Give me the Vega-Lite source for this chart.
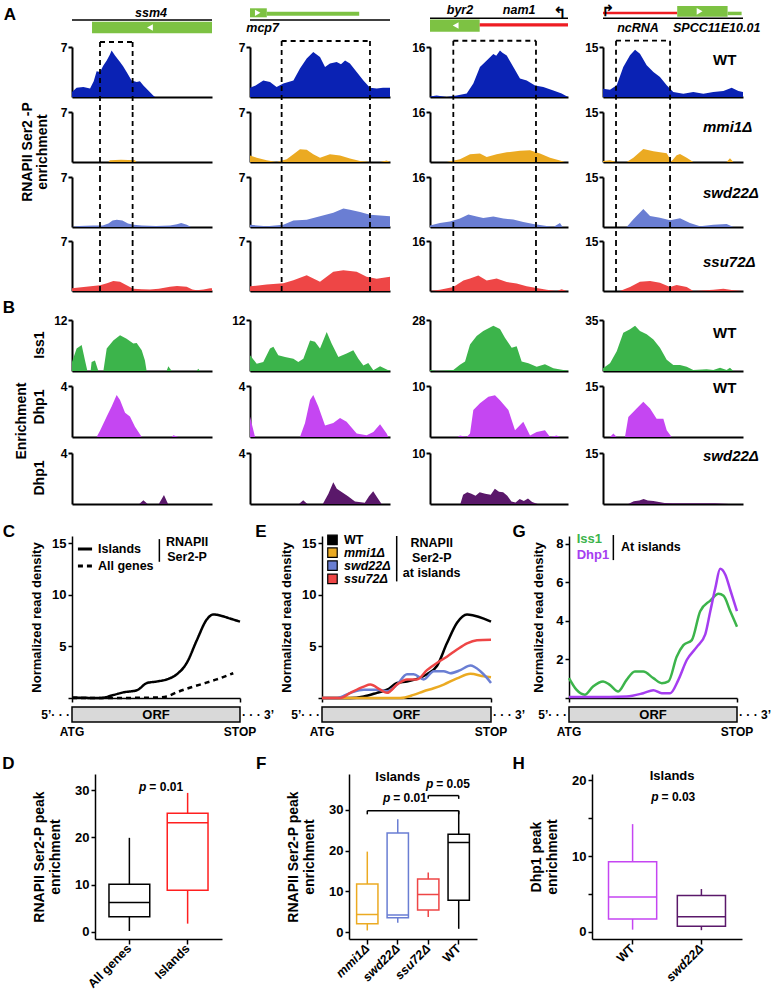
{
"$schema": "https://vega.github.io/schema/vega-lite/v6.json",
"padding": 0,
"spacing": 0,
"resolve": {"scale": {"color": "independent", "stroke": "independent", "strokeDash": "independent"}, "legend": {"color": "independent", "stroke": "independent", "strokeDash": "independent"}},
"config": {
 "view": {"stroke": null},
 "font": "Liberation Sans",
 "axis": {"labelFont": "Liberation Sans", "titleFont": "Liberation Sans", "labelFontWeight": "bold", "titleFontWeight": "bold", "labelColor": "black", "titleColor": "black", "domainColor": "black", "tickColor": "black", "grid": false, "zindex": 1},
 "text": {"font": "Liberation Sans", "fontWeight": "bold", "color": "black"},
 "legend": {"labelFont": "Liberation Sans"}
},
"datasets": {
 "genes": [
  {"c":1,"t":"line","s":0,"e":100},{"c":1,"t":"cds","s":14.3,"e":100},{"c":1,"t":"arrowL","s":55.7},{"c":1,"t":"label","s":56.4,"n":"ssm4"},
  {"c":2,"t":"line","s":0,"e":100},{"c":2,"t":"cds","s":0,"e":12},{"c":2,"t":"utr","s":12,"e":78},{"c":2,"t":"arrowR","s":5.5},{"c":2,"t":"label","s":9,"n":"mcp7"},
  {"c":3,"t":"line","s":0,"e":100},{"c":3,"t":"cds","s":0,"e":36},{"c":3,"t":"nc","s":36,"e":100},{"c":3,"t":"arrowL","s":18.6},{"c":3,"t":"label","s":21.7,"n":"byr2"},{"c":3,"t":"label","s":64.6,"n":"nam1"},{"c":3,"t":"tss","s":94.2,"n":"↰"},
  {"c":4,"t":"line","s":0,"e":100},{"c":4,"t":"nc","s":0,"e":53},{"c":4,"t":"cds","s":53,"e":89},{"c":4,"t":"utr","s":89,"e":99},{"c":4,"t":"arrowR","s":69},{"c":4,"t":"label","s":25,"n":"ncRNA"},{"c":4,"t":"label","s":81.2,"n":"SPCC11E10.01"},{"c":4,"t":"tss","s":3.6,"n":"↱"}
 ],
 "boxes": [{"c":1,"x1":20,"x2":43.3},{"c":2,"x1":22.6,"x2":85.7},{"c":3,"x1":16.9,"x2":76.8},{"c":4,"x1":9.3,"x2":47.9}],
 "tracks": [
  {"c":1,"r":"WT","x":0,"v":0.7},{"c":1,"r":"WT","x":3.3,"v":1.3},{"c":1,"r":"WT","x":8.1,"v":1.4},{"c":1,"r":"WT","x":12.9,"v":1.2},{"c":1,"r":"WT","x":15.5,"v":2.2},{"c":1,"r":"WT","x":17.6,"v":3.6},{"c":1,"r":"WT","x":20,"v":3.5},{"c":1,"r":"WT","x":22.4,"v":4.4},{"c":1,"r":"WT","x":24.8,"v":5.1},{"c":1,"r":"WT","x":27,"v":5.9},{"c":1,"r":"WT","x":28.3,"v":6.5},{"c":1,"r":"WT","x":30.7,"v":5.8},{"c":1,"r":"WT","x":34.3,"v":4.9},{"c":1,"r":"WT","x":36.5,"v":4.3},{"c":1,"r":"WT","x":39,"v":3.5},{"c":1,"r":"WT","x":42.6,"v":2.3},{"c":1,"r":"WT","x":46.2,"v":2.1},{"c":1,"r":"WT","x":48.5,"v":2.2},{"c":1,"r":"WT","x":51,"v":1.6},{"c":1,"r":"WT","x":54.5,"v":0.9},{"c":1,"r":"WT","x":58,"v":0.2},{"c":1,"r":"WT","x":59.3,"v":0},{"c":1,"r":"WT","x":100,"v":0},
  {"c":1,"r":"mmi1","x":0,"v":0},{"c":1,"r":"mmi1","x":26,"v":0},{"c":1,"r":"mmi1","x":27,"v":0.25},{"c":1,"r":"mmi1","x":35,"v":0.3},{"c":1,"r":"mmi1","x":45,"v":0.25},{"c":1,"r":"mmi1","x":46,"v":0},{"c":1,"r":"mmi1","x":100,"v":0},
  {"c":1,"r":"swd22","x":0,"v":0},{"c":1,"r":"swd22","x":5,"v":0.15},{"c":1,"r":"swd22","x":15,"v":0.2},{"c":1,"r":"swd22","x":22,"v":0.2},{"c":1,"r":"swd22","x":26,"v":0.5},{"c":1,"r":"swd22","x":29,"v":0.9},{"c":1,"r":"swd22","x":32,"v":1.0},{"c":1,"r":"swd22","x":36,"v":0.9},{"c":1,"r":"swd22","x":40,"v":0.5},{"c":1,"r":"swd22","x":44,"v":0.3},{"c":1,"r":"swd22","x":50,"v":0.2},{"c":1,"r":"swd22","x":60,"v":0.15},{"c":1,"r":"swd22","x":70,"v":0.2},{"c":1,"r":"swd22","x":75,"v":0.4},{"c":1,"r":"swd22","x":78,"v":0.55},{"c":1,"r":"swd22","x":82,"v":0.3},{"c":1,"r":"swd22","x":85,"v":0},{"c":1,"r":"swd22","x":100,"v":0},
  {"c":1,"r":"ssu72","x":0,"v":0.4},{"c":1,"r":"ssu72","x":10,"v":0.6},{"c":1,"r":"ssu72","x":20,"v":0.8},{"c":1,"r":"ssu72","x":25,"v":1.1},{"c":1,"r":"ssu72","x":29.5,"v":1.4},{"c":1,"r":"ssu72","x":34.3,"v":1.3},{"c":1,"r":"ssu72","x":39,"v":0.8},{"c":1,"r":"ssu72","x":43.8,"v":0.3},{"c":1,"r":"ssu72","x":50,"v":0.25},{"c":1,"r":"ssu72","x":55.7,"v":0.2},{"c":1,"r":"ssu72","x":62,"v":0.3},{"c":1,"r":"ssu72","x":70,"v":0.6},{"c":1,"r":"ssu72","x":75,"v":0.7},{"c":1,"r":"ssu72","x":81.9,"v":0.6},{"c":1,"r":"ssu72","x":86,"v":0.2},{"c":1,"r":"ssu72","x":89,"v":0.1},{"c":1,"r":"ssu72","x":94,"v":0.2},{"c":1,"r":"ssu72","x":98.6,"v":0.4},{"c":1,"r":"ssu72","x":100,"v":0.4},
  {"c":2,"r":"WT","x":0,"v":1.3},{"c":2,"r":"WT","x":4,"v":1.6},{"c":2,"r":"WT","x":9.5,"v":2.3},{"c":2,"r":"WT","x":14.3,"v":2.1},{"c":2,"r":"WT","x":19,"v":1.4},{"c":2,"r":"WT","x":23.8,"v":1.9},{"c":2,"r":"WT","x":31,"v":2.3},{"c":2,"r":"WT","x":35.7,"v":4.0},{"c":2,"r":"WT","x":40.5,"v":5.4},{"c":2,"r":"WT","x":45.2,"v":6.3},{"c":2,"r":"WT","x":50,"v":5.6},{"c":2,"r":"WT","x":53.6,"v":4.2},{"c":2,"r":"WT","x":57.1,"v":4.7},{"c":2,"r":"WT","x":61.9,"v":4.9},{"c":2,"r":"WT","x":65,"v":4.6},{"c":2,"r":"WT","x":67.9,"v":5.1},{"c":2,"r":"WT","x":71.4,"v":4.7},{"c":2,"r":"WT","x":76.2,"v":3.5},{"c":2,"r":"WT","x":81,"v":2.3},{"c":2,"r":"WT","x":85.7,"v":1.3},{"c":2,"r":"WT","x":90.5,"v":1.2},{"c":2,"r":"WT","x":95,"v":1.3},{"c":2,"r":"WT","x":100,"v":1.3},
  {"c":2,"r":"mmi1","x":0,"v":0.9},{"c":2,"r":"mmi1","x":4.8,"v":0.6},{"c":2,"r":"mmi1","x":11.9,"v":0.25},{"c":2,"r":"mmi1","x":19,"v":0},{"c":2,"r":"mmi1","x":26.2,"v":0.4},{"c":2,"r":"mmi1","x":31,"v":1.1},{"c":2,"r":"mmi1","x":35.7,"v":1.8},{"c":2,"r":"mmi1","x":40.5,"v":1.7},{"c":2,"r":"mmi1","x":45.2,"v":1.1},{"c":2,"r":"mmi1","x":50,"v":0.6},{"c":2,"r":"mmi1","x":57.1,"v":1.1},{"c":2,"r":"mmi1","x":64.3,"v":0.9},{"c":2,"r":"mmi1","x":71.4,"v":0.5},{"c":2,"r":"mmi1","x":78.6,"v":0.15},{"c":2,"r":"mmi1","x":85.7,"v":0},{"c":2,"r":"mmi1","x":92.9,"v":0},{"c":2,"r":"mmi1","x":97.6,"v":0.2},{"c":2,"r":"mmi1","x":100,"v":0},
  {"c":2,"r":"swd22","x":0,"v":0.3},{"c":2,"r":"swd22","x":11.9,"v":0.1},{"c":2,"r":"swd22","x":23.8,"v":0.3},{"c":2,"r":"swd22","x":31,"v":0.9},{"c":2,"r":"swd22","x":40.5,"v":1.0},{"c":2,"r":"swd22","x":50,"v":1.5},{"c":2,"r":"swd22","x":59.5,"v":2.0},{"c":2,"r":"swd22","x":66.7,"v":2.6},{"c":2,"r":"swd22","x":71.4,"v":2.4},{"c":2,"r":"swd22","x":78.6,"v":2.1},{"c":2,"r":"swd22","x":85.7,"v":1.7},{"c":2,"r":"swd22","x":92.9,"v":1.6},{"c":2,"r":"swd22","x":100,"v":1.5},
  {"c":2,"r":"ssu72","x":0,"v":0.65},{"c":2,"r":"ssu72","x":11.9,"v":0.9},{"c":2,"r":"ssu72","x":23.8,"v":1.1},{"c":2,"r":"ssu72","x":31,"v":1.5},{"c":2,"r":"ssu72","x":40.5,"v":2.2},{"c":2,"r":"ssu72","x":50,"v":1.3},{"c":2,"r":"ssu72","x":59.5,"v":2.7},{"c":2,"r":"ssu72","x":66.7,"v":2.9},{"c":2,"r":"ssu72","x":76.2,"v":2.7},{"c":2,"r":"ssu72","x":83.3,"v":2.0},{"c":2,"r":"ssu72","x":90.5,"v":1.7},{"c":2,"r":"ssu72","x":100,"v":2.0},
  {"c":3,"r":"WT","x":0,"v":0.2},{"c":3,"r":"WT","x":4.8,"v":0.5},{"c":3,"r":"WT","x":12.1,"v":0},{"c":3,"r":"WT","x":19.3,"v":0.5},{"c":3,"r":"WT","x":26.6,"v":1.1},{"c":3,"r":"WT","x":31.4,"v":4.3},{"c":3,"r":"WT","x":36.2,"v":9.6},{"c":3,"r":"WT","x":41.1,"v":11.7},{"c":3,"r":"WT","x":45.9,"v":13.8},{"c":3,"r":"WT","x":48,"v":13.2},{"c":3,"r":"WT","x":50.7,"v":14.9},{"c":3,"r":"WT","x":52.5,"v":14.2},{"c":3,"r":"WT","x":55.6,"v":13.3},{"c":3,"r":"WT","x":60.4,"v":9.6},{"c":3,"r":"WT","x":65.2,"v":5.9},{"c":3,"r":"WT","x":70.1,"v":5.3},{"c":3,"r":"WT","x":76.1,"v":3.7},{"c":3,"r":"WT","x":82.1,"v":3.2},{"c":3,"r":"WT","x":89.4,"v":2.1},{"c":3,"r":"WT","x":95.4,"v":1.1},{"c":3,"r":"WT","x":100,"v":0},
  {"c":3,"r":"mmi1","x":0,"v":0},{"c":3,"r":"mmi1","x":12.1,"v":0},{"c":3,"r":"mmi1","x":21.7,"v":0.9},{"c":3,"r":"mmi1","x":29,"v":2.5},{"c":3,"r":"mmi1","x":36.2,"v":2.7},{"c":3,"r":"mmi1","x":41.1,"v":1.6},{"c":3,"r":"mmi1","x":48.3,"v":2.5},{"c":3,"r":"mmi1","x":55.6,"v":3.1},{"c":3,"r":"mmi1","x":65.2,"v":3.6},{"c":3,"r":"mmi1","x":72.5,"v":3.8},{"c":3,"r":"mmi1","x":79.7,"v":2.7},{"c":3,"r":"mmi1","x":87,"v":1.4},{"c":3,"r":"mmi1","x":94.2,"v":0.5},{"c":3,"r":"mmi1","x":97.8,"v":0},{"c":3,"r":"mmi1","x":100,"v":0},
  {"c":3,"r":"swd22","x":0,"v":0.5},{"c":3,"r":"swd22","x":7.2,"v":1.3},{"c":3,"r":"swd22","x":14.5,"v":1.8},{"c":3,"r":"swd22","x":21.7,"v":2.7},{"c":3,"r":"swd22","x":27.8,"v":4.0},{"c":3,"r":"swd22","x":33.8,"v":3.4},{"c":3,"r":"swd22","x":38.6,"v":2.9},{"c":3,"r":"swd22","x":45.9,"v":3.4},{"c":3,"r":"swd22","x":53.1,"v":2.7},{"c":3,"r":"swd22","x":60.4,"v":2.4},{"c":3,"r":"swd22","x":67.6,"v":1.6},{"c":3,"r":"swd22","x":74.9,"v":1.0},{"c":3,"r":"swd22","x":82.1,"v":0.5},{"c":3,"r":"swd22","x":89.4,"v":0},{"c":3,"r":"swd22","x":94.2,"v":1.3},{"c":3,"r":"swd22","x":96.1,"v":0},{"c":3,"r":"swd22","x":100,"v":0},
  {"c":3,"r":"ssu72","x":0,"v":0},{"c":3,"r":"ssu72","x":7.2,"v":0.4},{"c":3,"r":"ssu72","x":16.9,"v":1.3},{"c":3,"r":"ssu72","x":24.2,"v":3.4},{"c":3,"r":"ssu72","x":29,"v":4.0},{"c":3,"r":"ssu72","x":35,"v":5.0},{"c":3,"r":"ssu72","x":41.1,"v":3.4},{"c":3,"r":"ssu72","x":48.3,"v":4.0},{"c":3,"r":"ssu72","x":55.6,"v":2.9},{"c":3,"r":"ssu72","x":62.8,"v":2.4},{"c":3,"r":"ssu72","x":70,"v":1.5},{"c":3,"r":"ssu72","x":77.3,"v":1.0},{"c":3,"r":"ssu72","x":84.5,"v":0.4},{"c":3,"r":"ssu72","x":91.8,"v":0},{"c":3,"r":"ssu72","x":95.4,"v":0.6},{"c":3,"r":"ssu72","x":99,"v":0},{"c":3,"r":"ssu72","x":100,"v":0},
  {"c":4,"r":"WT","x":0,"v":2.5},{"c":4,"r":"WT","x":5,"v":2.2},{"c":4,"r":"WT","x":9.8,"v":3.5},{"c":4,"r":"WT","x":14.5,"v":9},{"c":4,"r":"WT","x":19.3,"v":12.5},{"c":4,"r":"WT","x":22.9,"v":14.2},{"c":4,"r":"WT","x":26.4,"v":13},{"c":4,"r":"WT","x":31.2,"v":9.5},{"c":4,"r":"WT","x":36,"v":7.5},{"c":4,"r":"WT","x":40.7,"v":6},{"c":4,"r":"WT","x":45.5,"v":3.5},{"c":4,"r":"WT","x":50.2,"v":1.5},{"c":4,"r":"WT","x":57.4,"v":1},{"c":4,"r":"WT","x":64.5,"v":1.5},{"c":4,"r":"WT","x":71.7,"v":1},{"c":4,"r":"WT","x":78.8,"v":1.5},{"c":4,"r":"WT","x":86,"v":1.8},{"c":4,"r":"WT","x":91.9,"v":2.8},{"c":4,"r":"WT","x":96.7,"v":1.8},{"c":4,"r":"WT","x":100,"v":1.5},
  {"c":4,"r":"mmi1","x":0,"v":0.3},{"c":4,"r":"mmi1","x":5,"v":0.5},{"c":4,"r":"mmi1","x":9.8,"v":0},{"c":4,"r":"mmi1","x":16.9,"v":0},{"c":4,"r":"mmi1","x":21.7,"v":1.3},{"c":4,"r":"mmi1","x":28.8,"v":3.9},{"c":4,"r":"mmi1","x":36,"v":3.2},{"c":4,"r":"mmi1","x":45.5,"v":2.6},{"c":4,"r":"mmi1","x":47.5,"v":1.2},{"c":4,"r":"mmi1","x":49,"v":0.2},{"c":4,"r":"mmi1","x":52.6,"v":2.0},{"c":4,"r":"mmi1","x":55,"v":2.4},{"c":4,"r":"mmi1","x":59.8,"v":1.3},{"c":4,"r":"mmi1","x":64.5,"v":0},{"c":4,"r":"mmi1","x":88.3,"v":0},{"c":4,"r":"mmi1","x":90.7,"v":1.1},{"c":4,"r":"mmi1","x":93.1,"v":0},{"c":4,"r":"mmi1","x":100,"v":0},
  {"c":4,"r":"swd22","x":0,"v":0},{"c":4,"r":"swd22","x":16.9,"v":0},{"c":4,"r":"swd22","x":21.7,"v":2.3},{"c":4,"r":"swd22","x":28.8,"v":5.4},{"c":4,"r":"swd22","x":33.6,"v":3.3},{"c":4,"r":"swd22","x":40.7,"v":2.8},{"c":4,"r":"swd22","x":47.9,"v":2.0},{"c":4,"r":"swd22","x":55,"v":2.6},{"c":4,"r":"swd22","x":62.1,"v":1.2},{"c":4,"r":"swd22","x":69.3,"v":0.2},{"c":4,"r":"swd22","x":78.8,"v":0.7},{"c":4,"r":"swd22","x":88.3,"v":0.9},{"c":4,"r":"swd22","x":93.1,"v":0},{"c":4,"r":"swd22","x":100,"v":0},
  {"c":4,"r":"ssu72","x":0,"v":0},{"c":4,"r":"ssu72","x":12.1,"v":0},{"c":4,"r":"ssu72","x":19.3,"v":1.2},{"c":4,"r":"ssu72","x":26.4,"v":2.8},{"c":4,"r":"ssu72","x":33.6,"v":3.0},{"c":4,"r":"ssu72","x":40.7,"v":2.5},{"c":4,"r":"ssu72","x":47.9,"v":1.2},{"c":4,"r":"ssu72","x":52.6,"v":1.8},{"c":4,"r":"ssu72","x":59.8,"v":1.2},{"c":4,"r":"ssu72","x":64.5,"v":0},{"c":4,"r":"ssu72","x":78.8,"v":0.4},{"c":4,"r":"ssu72","x":86,"v":0.7},{"c":4,"r":"ssu72","x":93.1,"v":0.2},{"c":4,"r":"ssu72","x":100,"v":0}
 ],
 "chip": [
  {"c":1,"r":"Iss1","x":0,"v":2.1},{"c":1,"r":"Iss1","x":3.3,"v":5.3},{"c":1,"r":"Iss1","x":6.9,"v":6.1},{"c":1,"r":"Iss1","x":9.3,"v":2.5},{"c":1,"r":"Iss1","x":11,"v":0},{"c":1,"r":"Iss1","x":13.3,"v":0},{"c":1,"r":"Iss1","x":14,"v":2.1},{"c":1,"r":"Iss1","x":16.4,"v":2.5},{"c":1,"r":"Iss1","x":18.8,"v":0},{"c":1,"r":"Iss1","x":22.4,"v":0},{"c":1,"r":"Iss1","x":24.8,"v":5.3},{"c":1,"r":"Iss1","x":29.5,"v":7.2},{"c":1,"r":"Iss1","x":34.3,"v":8.4},{"c":1,"r":"Iss1","x":39,"v":7.6},{"c":1,"r":"Iss1","x":43.8,"v":6.5},{"c":1,"r":"Iss1","x":46.2,"v":6.6},{"c":1,"r":"Iss1","x":49.8,"v":4.9},{"c":1,"r":"Iss1","x":52.1,"v":2.5},{"c":1,"r":"Iss1","x":53.3,"v":0},{"c":1,"r":"Iss1","x":67.6,"v":0},{"c":1,"r":"Iss1","x":68.8,"v":1.1},{"c":1,"r":"Iss1","x":71.2,"v":0},{"c":1,"r":"Iss1","x":89,"v":0},{"c":1,"r":"Iss1","x":90.2,"v":0.55},{"c":1,"r":"Iss1","x":91.4,"v":0},{"c":1,"r":"Iss1","x":100,"v":0},
  {"c":1,"r":"Dhp1","x":0,"v":0},{"c":1,"r":"Dhp1","x":17.6,"v":0},{"c":1,"r":"Dhp1","x":20,"v":0.5},{"c":1,"r":"Dhp1","x":24.8,"v":1.6},{"c":1,"r":"Dhp1","x":28.3,"v":2.4},{"c":1,"r":"Dhp1","x":31.9,"v":3.3},{"c":1,"r":"Dhp1","x":34.3,"v":2.9},{"c":1,"r":"Dhp1","x":37.9,"v":1.9},{"c":1,"r":"Dhp1","x":41.4,"v":1.6},{"c":1,"r":"Dhp1","x":45,"v":0.8},{"c":1,"r":"Dhp1","x":49.8,"v":0},{"c":1,"r":"Dhp1","x":71.2,"v":0},{"c":1,"r":"Dhp1","x":72.4,"v":0.13},{"c":1,"r":"Dhp1","x":76,"v":0},{"c":1,"r":"Dhp1","x":100,"v":0},
  {"c":1,"r":"Dhp1s","x":0,"v":0},{"c":1,"r":"Dhp1s","x":48,"v":0},{"c":1,"r":"Dhp1s","x":51,"v":0.3},{"c":1,"r":"Dhp1s","x":54,"v":0},{"c":1,"r":"Dhp1s","x":62,"v":0},{"c":1,"r":"Dhp1s","x":65.7,"v":0.7},{"c":1,"r":"Dhp1s","x":68.6,"v":0},{"c":1,"r":"Dhp1s","x":100,"v":0},
  {"c":2,"r":"Iss1","x":0,"v":3.7},{"c":2,"r":"Iss1","x":4.8,"v":1.7},{"c":2,"r":"Iss1","x":9.5,"v":2.1},{"c":2,"r":"Iss1","x":14.3,"v":5.3},{"c":2,"r":"Iss1","x":16.7,"v":5.7},{"c":2,"r":"Iss1","x":20.2,"v":3.7},{"c":2,"r":"Iss1","x":25,"v":3.3},{"c":2,"r":"Iss1","x":31,"v":2.9},{"c":2,"r":"Iss1","x":34.5,"v":2.1},{"c":2,"r":"Iss1","x":38.1,"v":2.9},{"c":2,"r":"Iss1","x":42.9,"v":7.2},{"c":2,"r":"Iss1","x":46.4,"v":6.9},{"c":2,"r":"Iss1","x":50,"v":5.3},{"c":2,"r":"Iss1","x":54.8,"v":9.2},{"c":2,"r":"Iss1","x":58.3,"v":6.5},{"c":2,"r":"Iss1","x":63.1,"v":3.3},{"c":2,"r":"Iss1","x":69,"v":4.1},{"c":2,"r":"Iss1","x":73.8,"v":4.9},{"c":2,"r":"Iss1","x":77.4,"v":2.9},{"c":2,"r":"Iss1","x":81,"v":1.3},{"c":2,"r":"Iss1","x":84.5,"v":1.9},{"c":2,"r":"Iss1","x":88.1,"v":0.2},{"c":2,"r":"Iss1","x":92.9,"v":1.1},{"c":2,"r":"Iss1","x":98.8,"v":0.2},{"c":2,"r":"Iss1","x":100,"v":0.2},
  {"c":2,"r":"Dhp1","x":0,"v":1.6},{"c":2,"r":"Dhp1","x":3.6,"v":0},{"c":2,"r":"Dhp1","x":35.7,"v":0},{"c":2,"r":"Dhp1","x":39.3,"v":1.1},{"c":2,"r":"Dhp1","x":42.9,"v":2.9},{"c":2,"r":"Dhp1","x":45.2,"v":3.3},{"c":2,"r":"Dhp1","x":48.8,"v":2.4},{"c":2,"r":"Dhp1","x":53.6,"v":0.9},{"c":2,"r":"Dhp1","x":59.5,"v":1.1},{"c":2,"r":"Dhp1","x":64.3,"v":1.5},{"c":2,"r":"Dhp1","x":69,"v":1.2},{"c":2,"r":"Dhp1","x":76.2,"v":0.27},{"c":2,"r":"Dhp1","x":83.3,"v":0.13},{"c":2,"r":"Dhp1","x":88.1,"v":0.4},{"c":2,"r":"Dhp1","x":92.9,"v":1.0},{"c":2,"r":"Dhp1","x":97.6,"v":0.27},{"c":2,"r":"Dhp1","x":98.8,"v":0},{"c":2,"r":"Dhp1","x":100,"v":0},
  {"c":2,"r":"Dhp1s","x":0,"v":0},{"c":2,"r":"Dhp1s","x":35,"v":0},{"c":2,"r":"Dhp1s","x":38,"v":0.3},{"c":2,"r":"Dhp1s","x":41,"v":0},{"c":2,"r":"Dhp1s","x":52,"v":0},{"c":2,"r":"Dhp1s","x":56,"v":0.8},{"c":2,"r":"Dhp1s","x":59.5,"v":1.7},{"c":2,"r":"Dhp1s","x":62,"v":1.2},{"c":2,"r":"Dhp1s","x":66,"v":0.9},{"c":2,"r":"Dhp1s","x":70,"v":0.6},{"c":2,"r":"Dhp1s","x":75,"v":0.2},{"c":2,"r":"Dhp1s","x":82,"v":0.1},{"c":2,"r":"Dhp1s","x":85,"v":0.6},{"c":2,"r":"Dhp1s","x":88,"v":1.0},{"c":2,"r":"Dhp1s","x":91,"v":0.5},{"c":2,"r":"Dhp1s","x":94,"v":0},{"c":2,"r":"Dhp1s","x":100,"v":0},
  {"c":3,"r":"Iss1","x":0,"v":0.6},{"c":3,"r":"Iss1","x":4.8,"v":0},{"c":3,"r":"Iss1","x":16.9,"v":0.5},{"c":3,"r":"Iss1","x":21.7,"v":3.4},{"c":3,"r":"Iss1","x":25.4,"v":5.2},{"c":3,"r":"Iss1","x":29,"v":14.5},{"c":3,"r":"Iss1","x":33.8,"v":19.2},{"c":3,"r":"Iss1","x":38.6,"v":22},{"c":3,"r":"Iss1","x":45.9,"v":24.8},{"c":3,"r":"Iss1","x":50.7,"v":23},{"c":3,"r":"Iss1","x":54.3,"v":18.3},{"c":3,"r":"Iss1","x":59.2,"v":12.7},{"c":3,"r":"Iss1","x":62.8,"v":13.6},{"c":3,"r":"Iss1","x":66.4,"v":5.2},{"c":3,"r":"Iss1","x":71.3,"v":4.3},{"c":3,"r":"Iss1","x":77.3,"v":2.4},{"c":3,"r":"Iss1","x":83.3,"v":3.7},{"c":3,"r":"Iss1","x":89.4,"v":1.5},{"c":3,"r":"Iss1","x":96.6,"v":0.6},{"c":3,"r":"Iss1","x":100,"v":0.3},
  {"c":3,"r":"Dhp1","x":0,"v":0},{"c":3,"r":"Dhp1","x":20,"v":0},{"c":3,"r":"Dhp1","x":21.7,"v":0.3},{"c":3,"r":"Dhp1","x":26.6,"v":0},{"c":3,"r":"Dhp1","x":29,"v":0.7},{"c":3,"r":"Dhp1","x":31.4,"v":5.3},{"c":3,"r":"Dhp1","x":36.2,"v":6.6},{"c":3,"r":"Dhp1","x":42.3,"v":7.9},{"c":3,"r":"Dhp1","x":47.1,"v":8.2},{"c":3,"r":"Dhp1","x":50.7,"v":7.2},{"c":3,"r":"Dhp1","x":56.8,"v":5.3},{"c":3,"r":"Dhp1","x":61.6,"v":1.3},{"c":3,"r":"Dhp1","x":67.6,"v":3.0},{"c":3,"r":"Dhp1","x":72.5,"v":0.3},{"c":3,"r":"Dhp1","x":77.3,"v":1.0},{"c":3,"r":"Dhp1","x":83.3,"v":1.3},{"c":3,"r":"Dhp1","x":87,"v":0},{"c":3,"r":"Dhp1","x":91.8,"v":0.3},{"c":3,"r":"Dhp1","x":94.2,"v":0},{"c":3,"r":"Dhp1","x":100,"v":0},
  {"c":3,"r":"Dhp1s","x":0,"v":0},{"c":3,"r":"Dhp1s","x":22,"v":0},{"c":3,"r":"Dhp1s","x":24,"v":1.8},{"c":3,"r":"Dhp1s","x":27,"v":2.3},{"c":3,"r":"Dhp1s","x":30,"v":2.0},{"c":3,"r":"Dhp1s","x":33,"v":1.6},{"c":3,"r":"Dhp1s","x":36,"v":2.3},{"c":3,"r":"Dhp1s","x":40,"v":2.0},{"c":3,"r":"Dhp1s","x":44,"v":1.8},{"c":3,"r":"Dhp1s","x":47,"v":3.0},{"c":3,"r":"Dhp1s","x":50,"v":2.4},{"c":3,"r":"Dhp1s","x":53,"v":2.3},{"c":3,"r":"Dhp1s","x":56,"v":1.6},{"c":3,"r":"Dhp1s","x":59,"v":0.5},{"c":3,"r":"Dhp1s","x":62,"v":0.3},{"c":3,"r":"Dhp1s","x":65,"v":1.0},{"c":3,"r":"Dhp1s","x":68,"v":0.6},{"c":3,"r":"Dhp1s","x":71,"v":1.1},{"c":3,"r":"Dhp1s","x":74,"v":0.4},{"c":3,"r":"Dhp1s","x":78,"v":0},{"c":3,"r":"Dhp1s","x":100,"v":0},
  {"c":4,"r":"Iss1","x":0,"v":1.9},{"c":4,"r":"Iss1","x":5,"v":5.4},{"c":4,"r":"Iss1","x":9.8,"v":13.5},{"c":4,"r":"Iss1","x":14.5,"v":26.3},{"c":4,"r":"Iss1","x":19.3,"v":28.7},{"c":4,"r":"Iss1","x":22.9,"v":31},{"c":4,"r":"Iss1","x":26.4,"v":27.5},{"c":4,"r":"Iss1","x":31.2,"v":25.2},{"c":4,"r":"Iss1","x":36,"v":21.7},{"c":4,"r":"Iss1","x":40.7,"v":15.9},{"c":4,"r":"Iss1","x":45.5,"v":7.7},{"c":4,"r":"Iss1","x":50.2,"v":4.2},{"c":4,"r":"Iss1","x":55,"v":4.2},{"c":4,"r":"Iss1","x":59.8,"v":3},{"c":4,"r":"Iss1","x":64.5,"v":0.7},{"c":4,"r":"Iss1","x":74,"v":1.2},{"c":4,"r":"Iss1","x":78.8,"v":0.7},{"c":4,"r":"Iss1","x":83.6,"v":2.3},{"c":4,"r":"Iss1","x":88.3,"v":0.7},{"c":4,"r":"Iss1","x":90.7,"v":2.3},{"c":4,"r":"Iss1","x":93.1,"v":0},{"c":4,"r":"Iss1","x":100,"v":0},
  {"c":4,"r":"Dhp1","x":0,"v":0},{"c":4,"r":"Dhp1","x":5,"v":0},{"c":4,"r":"Dhp1","x":7.4,"v":1.0},{"c":4,"r":"Dhp1","x":9.8,"v":0},{"c":4,"r":"Dhp1","x":15.7,"v":0},{"c":4,"r":"Dhp1","x":18.1,"v":5.9},{"c":4,"r":"Dhp1","x":24,"v":8.4},{"c":4,"r":"Dhp1","x":28.8,"v":10.4},{"c":4,"r":"Dhp1","x":33.6,"v":8.4},{"c":4,"r":"Dhp1","x":38.3,"v":5.4},{"c":4,"r":"Dhp1","x":43.1,"v":5.4},{"c":4,"r":"Dhp1","x":45.5,"v":2.0},{"c":4,"r":"Dhp1","x":49,"v":0},{"c":4,"r":"Dhp1","x":100,"v":0},
  {"c":4,"r":"Dhp1s","x":0,"v":0},{"c":4,"r":"Dhp1s","x":18,"v":0},{"c":4,"r":"Dhp1s","x":22,"v":0.8},{"c":4,"r":"Dhp1s","x":26,"v":1.0},{"c":4,"r":"Dhp1s","x":29,"v":1.5},{"c":4,"r":"Dhp1s","x":32,"v":1.0},{"c":4,"r":"Dhp1s","x":36,"v":0.9},{"c":4,"r":"Dhp1s","x":40,"v":0.6},{"c":4,"r":"Dhp1s","x":44,"v":0.3},{"c":4,"r":"Dhp1s","x":50,"v":0.2},{"c":4,"r":"Dhp1s","x":60,"v":0.2},{"c":4,"r":"Dhp1s","x":70,"v":0.2},{"c":4,"r":"Dhp1s","x":80,"v":0.2},{"c":4,"r":"Dhp1s","x":90,"v":0},{"c":4,"r":"Dhp1s","x":100,"v":0}
 ],
 "prof": [
  {"p":"C","s":"Islands","x":0,"v":0.05},{"p":"C","s":"Islands","x":16.8,"v":0},{"p":"C","s":"Islands","x":24.8,"v":0.3},{"p":"C","s":"Islands","x":30.7,"v":0.55},{"p":"C","s":"Islands","x":38.6,"v":0.75},{"p":"C","s":"Islands","x":44.6,"v":1.45},{"p":"C","s":"Islands","x":50.5,"v":1.6},{"p":"C","s":"Islands","x":56.4,"v":1.8},{"p":"C","s":"Islands","x":62.4,"v":2.3},{"p":"C","s":"Islands","x":68.3,"v":3.4},{"p":"C","s":"Islands","x":74.3,"v":5.6},{"p":"C","s":"Islands","x":80.2,"v":7.6},{"p":"C","s":"Islands","x":84.2,"v":8.1},{"p":"C","s":"Islands","x":88.1,"v":8.0},{"p":"C","s":"Islands","x":94.1,"v":7.7},{"p":"C","s":"Islands","x":100,"v":7.4},
  {"p":"C","s":"All genes","x":0,"v":0},{"p":"C","s":"All genes","x":20,"v":0},{"p":"C","s":"All genes","x":40,"v":0.02},{"p":"C","s":"All genes","x":50.5,"v":0.05},{"p":"C","s":"All genes","x":56.4,"v":0.15},{"p":"C","s":"All genes","x":62.4,"v":0.55},{"p":"C","s":"All genes","x":68.3,"v":0.9},{"p":"C","s":"All genes","x":76.2,"v":1.3},{"p":"C","s":"All genes","x":86.1,"v":1.8},{"p":"C","s":"All genes","x":96,"v":2.4},
  {"p":"E","s":"WT","x":0,"v":0},{"p":"E","s":"WT","x":16.8,"v":0},{"p":"E","s":"WT","x":24.7,"v":0.15},{"p":"E","s":"WT","x":32.5,"v":0.5},{"p":"E","s":"WT","x":38.5,"v":0.8},{"p":"E","s":"WT","x":44.4,"v":1.45},{"p":"E","s":"WT","x":50.3,"v":1.6},{"p":"E","s":"WT","x":56.2,"v":1.85},{"p":"E","s":"WT","x":62.1,"v":2.3},{"p":"E","s":"WT","x":68,"v":3.1},{"p":"E","s":"WT","x":73.9,"v":5.3},{"p":"E","s":"WT","x":79.9,"v":7.3},{"p":"E","s":"WT","x":85.8,"v":8.1},{"p":"E","s":"WT","x":89.7,"v":8.0},{"p":"E","s":"WT","x":95.7,"v":7.7},{"p":"E","s":"WT","x":100,"v":7.4},
  {"p":"E","s":"mmi1Δ","x":0,"v":0},{"p":"E","s":"mmi1Δ","x":46.4,"v":0},{"p":"E","s":"mmi1Δ","x":54.2,"v":0.3},{"p":"E","s":"mmi1Δ","x":60.2,"v":0.65},{"p":"E","s":"mmi1Δ","x":66.1,"v":0.95},{"p":"E","s":"mmi1Δ","x":72,"v":1.3},{"p":"E","s":"mmi1Δ","x":79.9,"v":1.9},{"p":"E","s":"mmi1Δ","x":87.8,"v":2.35},{"p":"E","s":"mmi1Δ","x":95.7,"v":2.1},{"p":"E","s":"mmi1Δ","x":100,"v":2.0},
  {"p":"E","s":"swd22Δ","x":0,"v":0},{"p":"E","s":"swd22Δ","x":8.9,"v":0},{"p":"E","s":"swd22Δ","x":16.8,"v":0.5},{"p":"E","s":"swd22Δ","x":24.7,"v":0.8},{"p":"E","s":"swd22Δ","x":32.5,"v":0.8},{"p":"E","s":"swd22Δ","x":38.5,"v":0.65},{"p":"E","s":"swd22Δ","x":44.4,"v":1.3},{"p":"E","s":"swd22Δ","x":50.3,"v":2.3},{"p":"E","s":"swd22Δ","x":54.2,"v":2.3},{"p":"E","s":"swd22Δ","x":60.2,"v":1.8},{"p":"E","s":"swd22Δ","x":66.1,"v":2.6},{"p":"E","s":"swd22Δ","x":72,"v":2.6},{"p":"E","s":"swd22Δ","x":75.9,"v":2.4},{"p":"E","s":"swd22Δ","x":81.9,"v":2.7},{"p":"E","s":"swd22Δ","x":87.8,"v":3.15},{"p":"E","s":"swd22Δ","x":93.7,"v":2.6},{"p":"E","s":"swd22Δ","x":97.6,"v":1.95},{"p":"E","s":"swd22Δ","x":100,"v":1.45},
  {"p":"E","s":"ssu72Δ","x":0,"v":0},{"p":"E","s":"ssu72Δ","x":10.8,"v":0},{"p":"E","s":"ssu72Δ","x":16.8,"v":0.5},{"p":"E","s":"ssu72Δ","x":24.7,"v":1.1},{"p":"E","s":"ssu72Δ","x":28.6,"v":1.3},{"p":"E","s":"ssu72Δ","x":34.5,"v":0.8},{"p":"E","s":"ssu72Δ","x":38.5,"v":0.5},{"p":"E","s":"ssu72Δ","x":44.4,"v":1.3},{"p":"E","s":"ssu72Δ","x":50.3,"v":1.8},{"p":"E","s":"ssu72Δ","x":56.2,"v":1.8},{"p":"E","s":"ssu72Δ","x":62.1,"v":2.7},{"p":"E","s":"ssu72Δ","x":68,"v":3.4},{"p":"E","s":"ssu72Δ","x":73.9,"v":4.0},{"p":"E","s":"ssu72Δ","x":79.9,"v":4.7},{"p":"E","s":"ssu72Δ","x":85.8,"v":5.3},{"p":"E","s":"ssu72Δ","x":91.7,"v":5.6},{"p":"E","s":"ssu72Δ","x":100,"v":5.65},
  {"p":"G","s":"Iss1","x":0,"v":1.03},{"p":"G","s":"Iss1","x":4.4,"v":0.43},{"p":"G","s":"Iss1","x":9.4,"v":0.17},{"p":"G","s":"Iss1","x":14.3,"v":0.6},{"p":"G","s":"Iss1","x":20.3,"v":0.86},{"p":"G","s":"Iss1","x":24.3,"v":0.68},{"p":"G","s":"Iss1","x":29.3,"v":0.34},{"p":"G","s":"Iss1","x":34.3,"v":0.94},{"p":"G","s":"Iss1","x":39.2,"v":1.37},{"p":"G","s":"Iss1","x":44.2,"v":1.37},{"p":"G","s":"Iss1","x":50.2,"v":1.03},{"p":"G","s":"Iss1","x":55.2,"v":0.77},{"p":"G","s":"Iss1","x":59.2,"v":0.86},{"p":"G","s":"Iss1","x":64.1,"v":2.14},{"p":"G","s":"Iss1","x":68.1,"v":2.74},{"p":"G","s":"Iss1","x":73.1,"v":3.0},{"p":"G","s":"Iss1","x":78.1,"v":4.5},{"p":"G","s":"Iss1","x":84.1,"v":5.05},{"p":"G","s":"Iss1","x":89,"v":5.4},{"p":"G","s":"Iss1","x":92,"v":5.3},{"p":"G","s":"Iss1","x":96,"v":4.5},{"p":"G","s":"Iss1","x":100,"v":3.7},
  {"p":"G","s":"Dhp1","x":0,"v":0.05},{"p":"G","s":"Dhp1","x":14.3,"v":0.05},{"p":"G","s":"Dhp1","x":34.3,"v":0.08},{"p":"G","s":"Dhp1","x":44.2,"v":0.25},{"p":"G","s":"Dhp1","x":50.2,"v":0.4},{"p":"G","s":"Dhp1","x":55.2,"v":0.25},{"p":"G","s":"Dhp1","x":60.2,"v":0.25},{"p":"G","s":"Dhp1","x":65.1,"v":0.94},{"p":"G","s":"Dhp1","x":70.1,"v":1.97},{"p":"G","s":"Dhp1","x":76.1,"v":2.65},{"p":"G","s":"Dhp1","x":81.1,"v":3.3},{"p":"G","s":"Dhp1","x":84.1,"v":4.5},{"p":"G","s":"Dhp1","x":87.1,"v":5.7},{"p":"G","s":"Dhp1","x":90,"v":6.7},{"p":"G","s":"Dhp1","x":93,"v":6.4},{"p":"G","s":"Dhp1","x":96,"v":5.6},{"p":"G","s":"Dhp1","x":100,"v":4.5}
 ],
 "stats": [
  {"p":"D","g":"All genes","lo":0.2,"q1":3.2,"md":6.2,"q3":10.1,"hi":19.9},
  {"p":"D","g":"Islands","lo":1.75,"q1":8.8,"md":23.1,"q3":25.1,"hi":29.4},
  {"p":"F","g":"mmi1Δ","lo":0.4,"q1":2.05,"md":4.3,"q3":11.8,"hi":19.75},
  {"p":"F","g":"swd22Δ","lo":2.3,"q1":3.5,"md":4.2,"q3":24.3,"hi":27.7},
  {"p":"F","g":"ssu72Δ","lo":3.7,"q1":5.4,"md":9.2,"q3":13.0,"hi":14.6},
  {"p":"F","g":"WT","lo":0.8,"q1":7.8,"md":22.0,"q3":24.0,"hi":29.8},
  {"p":"H","g":"WT","lo":0.3,"q1":1.7,"md":4.6,"q3":9.25,"hi":14.2},
  {"p":"H","g":"swd22Δ","lo":0.23,"q1":0.76,"md":2.0,"q3":4.8,"hi":5.65}
 ]
},
"vconcat": [
 {"hconcat": [
  {"vconcat": [
   {"width":140,"height":1,"data":{"values":[{}]},"mark":{"type":"rule","strokeOpacity":0},"encoding":{"x":{"datum":-72,"type":"quantitative","scale":{"domain":[0,140],"nice":false,"zero":false},"axis":null},"x2":{"datum":148},"y":{"datum":0,"type":"quantitative","scale":{"domain":[0,1]},"axis":null}}},
   {"width":140,"height":46,"data":{"name":"genes"},"layer":[
    {"transform":[{"filter":"datum.c==1 && datum.t=='line'"}],"mark":{"type":"rule","color":"black","strokeWidth":1.6},"encoding":{"x":{"field":"s","type":"quantitative","scale":{"domain":[0,100],"nice":false,"zero":false},"axis":null},"x2":{"field":"e"},"y":{"datum":19,"type":"quantitative","scale":{"domain":[0,46],"reverse":true,"nice":false,"zero":false},"axis":null}}},
    {"transform":[{"filter":"datum.c==1 && datum.t=='cds'"}],"mark":{"type":"rect","color":"#7DC243"},"encoding":{"x":{"field":"s","type":"quantitative","axis":null},"x2":{"field":"e"},"y":{"datum":20.7,"type":"quantitative","axis":null},"y2":{"datum":32.3}}},
    {"transform":[{"filter":"datum.c==1 && datum.t=='arrowL'"}],"mark":{"type":"point","shape":"triangle-left","filled":true,"color":"white","size":45,"opacity":1},"encoding":{"x":{"field":"s","type":"quantitative","axis":null},"y":{"datum":26.5,"type":"quantitative","axis":null}}},
    {"transform":[{"filter":"datum.c==1 && datum.t=='label'"}],"mark":{"type":"text","fontSize":12.5,"fontStyle":"italic"},"encoding":{"x":{"field":"s","type":"quantitative","axis":null},"y":{"datum":11.5,"type":"quantitative","axis":null},"text":{"field":"n"}}},
    {"data":{"values":[{}]},"mark":{"type":"text","text":"A","fontSize":17,"dx":-62},"encoding":{"x":{"datum":0,"type":"quantitative","axis":null},"y":{"datum":13.5,"type":"quantitative","axis":null}}}
   ]},
   {"width":140,"height":50,"layer":[
    {"data":{"name":"tracks"},"transform":[{"filter":"datum.c==1 && datum.r=='WT'"}],"mark":{"type":"area","color":"#0a22b4"},"encoding":{"x":{"field":"x","type":"quantitative","scale":{"domain":[0,100],"nice":false,"zero":false},"axis":{"ticks":false,"labels":false,"title":null,"domainWidth":2}},"y":{"field":"v","type":"quantitative","scale":{"domain":[0,7],"nice":false},"axis":{"values":[7],"title":null,"domainWidth":2,"tickWidth":2,"tickSize":4,"labelPadding":1,"labelFontSize":12}}}},
    {"data":{"name":"boxes"},"transform":[{"filter":"datum.c==1"},{"fold":["x1","x2"],"as":["k","xx"]}],"mark":{"type":"rule","strokeDash":[5,4],"strokeWidth":1.8,"color":"black"},"encoding":{"x":{"field":"xx","type":"quantitative"},"y":{"datum":7.7,"type":"quantitative"},"y2":{"datum":-2.1}}},
    {"data":{"name":"boxes"},"transform":[{"filter":"datum.c==1"}],"mark":{"type":"rule","strokeDash":[5,4],"strokeWidth":1.8,"color":"black"},"encoding":{"x":{"field":"x1","type":"quantitative"},"x2":{"field":"x2"},"y":{"datum":7.7,"type":"quantitative"}}}
   ]},
   {"width":1,"height":15,"data":{"values":[{}]},"mark":{"type":"point","opacity":0}},
   {"width":140,"height":50,"layer":[
    {"data":{"name":"tracks"},"transform":[{"filter":"datum.c==1 && datum.r=='mmi1'"}],"mark":{"type":"area","color":"#EBAA22"},"encoding":{"x":{"field":"x","type":"quantitative","scale":{"domain":[0,100],"nice":false,"zero":false},"axis":{"ticks":false,"labels":false,"title":null,"domainWidth":2}},"y":{"field":"v","type":"quantitative","scale":{"domain":[0,7],"nice":false},"axis":{"values":[7],"title":null,"domainWidth":2,"tickWidth":2,"tickSize":4,"labelPadding":1,"labelFontSize":12}}}},
    {"data":{"name":"boxes"},"transform":[{"filter":"datum.c==1"},{"fold":["x1","x2"],"as":["k","xx"]}],"mark":{"type":"rule","strokeDash":[5,4],"strokeWidth":1.8,"color":"black"},"encoding":{"x":{"field":"xx","type":"quantitative"},"y":{"datum":7,"type":"quantitative"},"y2":{"datum":-2.1}}},
    {"data":{"values":[{}]},"mark":{"type":"text","text":"RNAPII Ser2 -P","fontSize":14,"angle":270,"dy":-44},"encoding":{"x":{"datum":0,"type":"quantitative"},"y":{"datum":1.4,"type":"quantitative"}}},
    {"data":{"values":[{}]},"mark":{"type":"text","text":"enrichment","fontSize":14,"angle":270,"dy":-29},"encoding":{"x":{"datum":0,"type":"quantitative"},"y":{"datum":1.4,"type":"quantitative"}}}
   ]},
   {"width":1,"height":15,"data":{"values":[{}]},"mark":{"type":"point","opacity":0}},
   {"width":140,"height":50,"layer":[
    {"data":{"name":"tracks"},"transform":[{"filter":"datum.c==1 && datum.r=='swd22'"}],"mark":{"type":"area","color":"#6A7ED3"},"encoding":{"x":{"field":"x","type":"quantitative","scale":{"domain":[0,100],"nice":false,"zero":false},"axis":{"ticks":false,"labels":false,"title":null,"domainWidth":2}},"y":{"field":"v","type":"quantitative","scale":{"domain":[0,7],"nice":false},"axis":{"values":[7],"title":null,"domainWidth":2,"tickWidth":2,"tickSize":4,"labelPadding":1,"labelFontSize":12}}}},
    {"data":{"name":"boxes"},"transform":[{"filter":"datum.c==1"},{"fold":["x1","x2"],"as":["k","xx"]}],"mark":{"type":"rule","strokeDash":[5,4],"strokeWidth":1.8,"color":"black"},"encoding":{"x":{"field":"xx","type":"quantitative"},"y":{"datum":7,"type":"quantitative"},"y2":{"datum":-2.0}}}
   ]},
   {"width":1,"height":14,"data":{"values":[{}]},"mark":{"type":"point","opacity":0}},
   {"width":140,"height":50,"layer":[
    {"data":{"name":"tracks"},"transform":[{"filter":"datum.c==1 && datum.r=='ssu72'"}],"mark":{"type":"area","color":"#EE4646"},"encoding":{"x":{"field":"x","type":"quantitative","scale":{"domain":[0,100],"nice":false,"zero":false},"axis":{"ticks":false,"labels":false,"title":null,"domainWidth":2}},"y":{"field":"v","type":"quantitative","scale":{"domain":[0,7],"nice":false},"axis":{"values":[7],"title":null,"domainWidth":2,"tickWidth":2,"tickSize":4,"labelPadding":1,"labelFontSize":12}}}},
    {"data":{"name":"boxes"},"transform":[{"filter":"datum.c==1"},{"fold":["x1","x2"],"as":["k","xx"]}],"mark":{"type":"rule","strokeDash":[5,4],"strokeWidth":1.8,"color":"black"},"encoding":{"x":{"field":"xx","type":"quantitative"},"y":{"datum":7,"type":"quantitative"},"y2":{"datum":0}}}
   ]},
   {"width":1,"height":29,"data":{"values":[{}]},"mark":{"type":"point","opacity":0}},
   {"width":140,"height":51,"layer":[
    {"data":{"name":"chip"},"transform":[{"filter":"datum.c==1 && datum.r=='Iss1'"}],"mark":{"type":"area","color":"#3CB44B"},"encoding":{"x":{"field":"x","type":"quantitative","scale":{"domain":[0,100],"nice":false,"zero":false},"axis":{"ticks":false,"labels":false,"title":null,"domainWidth":2}},"y":{"field":"v","type":"quantitative","scale":{"domain":[0,12],"nice":false},"axis":{"values":[12],"title":null,"domainWidth":2,"tickWidth":2,"tickSize":4,"labelPadding":1,"labelFontSize":12}}}},
    {"data":{"values":[{}]},"mark":{"type":"text","text":"Iss1","fontSize":14,"angle":270,"dy":-32},"encoding":{"x":{"datum":0,"type":"quantitative"},"y":{"datum":6.1,"type":"quantitative"}}},
    {"data":{"values":[{}]},"mark":{"type":"text","text":"B","fontSize":17,"dx":-63},"encoding":{"x":{"datum":0,"type":"quantitative"},"y":{"datum":14.8,"type":"quantitative"}}}
   ]},
   {"width":1,"height":15,"data":{"values":[{}]},"mark":{"type":"point","opacity":0}},
   {"width":140,"height":51,"layer":[
    {"data":{"name":"chip"},"transform":[{"filter":"datum.c==1 && datum.r=='Dhp1'"}],"mark":{"type":"area","color":"#C546F2"},"encoding":{"x":{"field":"x","type":"quantitative","scale":{"domain":[0,100],"nice":false,"zero":false},"axis":{"ticks":false,"labels":false,"title":null,"domainWidth":2}},"y":{"field":"v","type":"quantitative","scale":{"domain":[0,4],"nice":false},"axis":{"values":[4],"title":null,"domainWidth":2,"tickWidth":2,"tickSize":4,"labelPadding":1,"labelFontSize":12}}}},
    {"data":{"values":[{}]},"mark":{"type":"text","text":"Dhp1","fontSize":14,"angle":270,"dy":-32},"encoding":{"x":{"datum":0,"type":"quantitative"},"y":{"datum":2.35,"type":"quantitative"}}},
    {"data":{"values":[{}]},"mark":{"type":"text","text":"Enrichment","fontSize":14,"angle":270,"dy":-50},"encoding":{"x":{"datum":0,"type":"quantitative"},"y":{"datum":1.25,"type":"quantitative"}}}
   ]},
   {"width":1,"height":16,"data":{"values":[{}]},"mark":{"type":"point","opacity":0}},
   {"width":140,"height":51,"layer":[
    {"data":{"name":"chip"},"transform":[{"filter":"datum.c==1 && datum.r=='Dhp1s'"}],"mark":{"type":"area","color":"#5A186A"},"encoding":{"x":{"field":"x","type":"quantitative","scale":{"domain":[0,100],"nice":false,"zero":false},"axis":{"ticks":false,"labels":false,"title":null,"domainWidth":2}},"y":{"field":"v","type":"quantitative","scale":{"domain":[0,4],"nice":false},"axis":{"values":[4],"title":null,"domainWidth":2,"tickWidth":2,"tickSize":4,"labelPadding":1,"labelFontSize":12}}}},
    {"data":{"values":[{}]},"mark":{"type":"text","text":"Dhp1","fontSize":14,"angle":270,"dy":-32},"encoding":{"x":{"datum":0,"type":"quantitative"},"y":{"datum":2.04,"type":"quantitative"}}}
   ]},
   {"width":1,"height":6,"data":{"values":[{}]},"mark":{"type":"point","opacity":0}}
  ], "spacing": 0, "bounds": "flush"},

  {"vconcat": [
   {"width":140,"height":1,"data":{"values":[{}]},"mark":{"type":"rule","strokeOpacity":0},"encoding":{"x":{"datum":-30,"type":"quantitative","scale":{"domain":[0,140],"nice":false,"zero":false},"axis":null},"x2":{"datum":150},"y":{"datum":0,"type":"quantitative","scale":{"domain":[0,1]},"axis":null}}},
   {"width":140,"height":46,"data":{"name":"genes"},"layer":[
    {"transform":[{"filter":"datum.c==2 && datum.t=='line'"}],"mark":{"type":"rule","color":"black","strokeWidth":1.6},"encoding":{"x":{"field":"s","type":"quantitative","scale":{"domain":[0,100],"nice":false,"zero":false},"axis":null},"x2":{"field":"e"},"y":{"datum":19,"type":"quantitative","scale":{"domain":[0,46],"reverse":true,"nice":false,"zero":false},"axis":null}}},
    {"transform":[{"filter":"datum.c==2 && datum.t=='cds'"}],"mark":{"type":"rect","color":"#7DC243"},"encoding":{"x":{"field":"s","type":"quantitative","axis":null},"x2":{"field":"e"},"y":{"datum":7.3,"type":"quantitative","axis":null},"y2":{"datum":16.3}}},
    {"transform":[{"filter":"datum.c==2 && datum.t=='utr'"}],"mark":{"type":"rect","color":"#7DC243"},"encoding":{"x":{"field":"s","type":"quantitative","axis":null},"x2":{"field":"e"},"y":{"datum":10.7,"type":"quantitative","axis":null},"y2":{"datum":14.7}}},
    {"transform":[{"filter":"datum.c==2 && datum.t=='arrowR'"}],"mark":{"type":"point","shape":"triangle-right","filled":true,"color":"white","size":40,"opacity":1},"encoding":{"x":{"field":"s","type":"quantitative","axis":null},"y":{"datum":11.8,"type":"quantitative","axis":null}}},
    {"transform":[{"filter":"datum.c==2 && datum.t=='label'"}],"mark":{"type":"text","fontSize":12.5,"fontStyle":"italic"},"encoding":{"x":{"field":"s","type":"quantitative","axis":null},"y":{"datum":26.5,"type":"quantitative","axis":null},"text":{"field":"n"}}}
   ]},
   {"width":140,"height":50,"layer":[
    {"data":{"name":"tracks"},"transform":[{"filter":"datum.c==2 && datum.r=='WT'"}],"mark":{"type":"area","color":"#0a22b4"},"encoding":{"x":{"field":"x","type":"quantitative","scale":{"domain":[0,100],"nice":false,"zero":false},"axis":{"ticks":false,"labels":false,"title":null,"domainWidth":2}},"y":{"field":"v","type":"quantitative","scale":{"domain":[0,7],"nice":false},"axis":{"values":[7],"title":null,"domainWidth":2,"tickWidth":2,"tickSize":4,"labelPadding":1,"labelFontSize":12}}}},
    {"data":{"name":"boxes"},"transform":[{"filter":"datum.c==2"},{"fold":["x1","x2"],"as":["k","xx"]}],"mark":{"type":"rule","strokeDash":[5,4],"strokeWidth":1.8,"color":"black"},"encoding":{"x":{"field":"xx","type":"quantitative"},"y":{"datum":7.84,"type":"quantitative"},"y2":{"datum":-2.1}}},
    {"data":{"name":"boxes"},"transform":[{"filter":"datum.c==2"}],"mark":{"type":"rule","strokeDash":[5,4],"strokeWidth":1.8,"color":"black"},"encoding":{"x":{"field":"x1","type":"quantitative"},"x2":{"field":"x2"},"y":{"datum":7.84,"type":"quantitative"}}}
   ]},
   {"width":1,"height":15,"data":{"values":[{}]},"mark":{"type":"point","opacity":0}},
   {"width":140,"height":50,"layer":[
    {"data":{"name":"tracks"},"transform":[{"filter":"datum.c==2 && datum.r=='mmi1'"}],"mark":{"type":"area","color":"#EBAA22"},"encoding":{"x":{"field":"x","type":"quantitative","scale":{"domain":[0,100],"nice":false,"zero":false},"axis":{"ticks":false,"labels":false,"title":null,"domainWidth":2}},"y":{"field":"v","type":"quantitative","scale":{"domain":[0,7],"nice":false},"axis":{"values":[7],"title":null,"domainWidth":2,"tickWidth":2,"tickSize":4,"labelPadding":1,"labelFontSize":12}}}},
    {"data":{"name":"boxes"},"transform":[{"filter":"datum.c==2"},{"fold":["x1","x2"],"as":["k","xx"]}],"mark":{"type":"rule","strokeDash":[5,4],"strokeWidth":1.8,"color":"black"},"encoding":{"x":{"field":"xx","type":"quantitative"},"y":{"datum":7,"type":"quantitative"},"y2":{"datum":-2.1}}}
   ]},
   {"width":1,"height":15,"data":{"values":[{}]},"mark":{"type":"point","opacity":0}},
   {"width":140,"height":50,"layer":[
    {"data":{"name":"tracks"},"transform":[{"filter":"datum.c==2 && datum.r=='swd22'"}],"mark":{"type":"area","color":"#6A7ED3"},"encoding":{"x":{"field":"x","type":"quantitative","scale":{"domain":[0,100],"nice":false,"zero":false},"axis":{"ticks":false,"labels":false,"title":null,"domainWidth":2}},"y":{"field":"v","type":"quantitative","scale":{"domain":[0,7],"nice":false},"axis":{"values":[7],"title":null,"domainWidth":2,"tickWidth":2,"tickSize":4,"labelPadding":1,"labelFontSize":12}}}},
    {"data":{"name":"boxes"},"transform":[{"filter":"datum.c==2"},{"fold":["x1","x2"],"as":["k","xx"]}],"mark":{"type":"rule","strokeDash":[5,4],"strokeWidth":1.8,"color":"black"},"encoding":{"x":{"field":"xx","type":"quantitative"},"y":{"datum":7,"type":"quantitative"},"y2":{"datum":-2.0}}}
   ]},
   {"width":1,"height":14,"data":{"values":[{}]},"mark":{"type":"point","opacity":0}},
   {"width":140,"height":50,"layer":[
    {"data":{"name":"tracks"},"transform":[{"filter":"datum.c==2 && datum.r=='ssu72'"}],"mark":{"type":"area","color":"#EE4646"},"encoding":{"x":{"field":"x","type":"quantitative","scale":{"domain":[0,100],"nice":false,"zero":false},"axis":{"ticks":false,"labels":false,"title":null,"domainWidth":2}},"y":{"field":"v","type":"quantitative","scale":{"domain":[0,7],"nice":false},"axis":{"values":[7],"title":null,"domainWidth":2,"tickWidth":2,"tickSize":4,"labelPadding":1,"labelFontSize":12}}}},
    {"data":{"name":"boxes"},"transform":[{"filter":"datum.c==2"},{"fold":["x1","x2"],"as":["k","xx"]}],"mark":{"type":"rule","strokeDash":[5,4],"strokeWidth":1.8,"color":"black"},"encoding":{"x":{"field":"xx","type":"quantitative"},"y":{"datum":7,"type":"quantitative"},"y2":{"datum":0}}}
   ]},
   {"width":1,"height":29,"data":{"values":[{}]},"mark":{"type":"point","opacity":0}},
   {"width":140,"height":51,"layer":[
    {"data":{"name":"chip"},"transform":[{"filter":"datum.c==2 && datum.r=='Iss1'"}],"mark":{"type":"area","color":"#3CB44B"},"encoding":{"x":{"field":"x","type":"quantitative","scale":{"domain":[0,100],"nice":false,"zero":false},"axis":{"ticks":false,"labels":false,"title":null,"domainWidth":2}},"y":{"field":"v","type":"quantitative","scale":{"domain":[0,12],"nice":false},"axis":{"values":[12],"title":null,"domainWidth":2,"tickWidth":2,"tickSize":4,"labelPadding":1,"labelFontSize":12}}}}
   ]},
   {"width":1,"height":15,"data":{"values":[{}]},"mark":{"type":"point","opacity":0}},
   {"width":140,"height":51,"layer":[
    {"data":{"name":"chip"},"transform":[{"filter":"datum.c==2 && datum.r=='Dhp1'"}],"mark":{"type":"area","color":"#C546F2"},"encoding":{"x":{"field":"x","type":"quantitative","scale":{"domain":[0,100],"nice":false,"zero":false},"axis":{"ticks":false,"labels":false,"title":null,"domainWidth":2}},"y":{"field":"v","type":"quantitative","scale":{"domain":[0,4],"nice":false},"axis":{"values":[4],"title":null,"domainWidth":2,"tickWidth":2,"tickSize":4,"labelPadding":1,"labelFontSize":12}}}}
   ]},
   {"width":1,"height":16,"data":{"values":[{}]},"mark":{"type":"point","opacity":0}},
   {"width":140,"height":51,"layer":[
    {"data":{"name":"chip"},"transform":[{"filter":"datum.c==2 && datum.r=='Dhp1s'"}],"mark":{"type":"area","color":"#5A186A"},"encoding":{"x":{"field":"x","type":"quantitative","scale":{"domain":[0,100],"nice":false,"zero":false},"axis":{"ticks":false,"labels":false,"title":null,"domainWidth":2}},"y":{"field":"v","type":"quantitative","scale":{"domain":[0,4],"nice":false},"axis":{"values":[4],"title":null,"domainWidth":2,"tickWidth":2,"tickSize":4,"labelPadding":1,"labelFontSize":12}}}}
   ]}
  ], "spacing": 0, "bounds": "flush"},

  {"vconcat": [
   {"width":138,"height":1,"data":{"values":[{}]},"mark":{"type":"rule","strokeOpacity":0},"encoding":{"x":{"datum":-30,"type":"quantitative","scale":{"domain":[0,138],"nice":false,"zero":false},"axis":null},"x2":{"datum":143},"y":{"datum":0,"type":"quantitative","scale":{"domain":[0,1]},"axis":null}}},
   {"width":138,"height":46,"data":{"name":"genes"},"layer":[
    {"transform":[{"filter":"datum.c==3 && datum.t=='line'"}],"mark":{"type":"rule","color":"black","strokeWidth":1.6},"encoding":{"x":{"field":"s","type":"quantitative","scale":{"domain":[0,100],"nice":false,"zero":false},"axis":null},"x2":{"field":"e"},"y":{"datum":17.3,"type":"quantitative","scale":{"domain":[0,46],"reverse":true,"nice":false,"zero":false},"axis":null}}},
    {"transform":[{"filter":"datum.c==3 && datum.t=='cds'"}],"mark":{"type":"rect","color":"#7DC243"},"encoding":{"x":{"field":"s","type":"quantitative","axis":null},"x2":{"field":"e"},"y":{"datum":18.5,"type":"quantitative","axis":null},"y2":{"datum":30.7}}},
    {"transform":[{"filter":"datum.c==3 && datum.t=='nc'"}],"mark":{"type":"rect","color":"#EE1D23"},"encoding":{"x":{"field":"s","type":"quantitative","axis":null},"x2":{"field":"e"},"y":{"datum":22.2,"type":"quantitative","axis":null},"y2":{"datum":25.5}}},
    {"transform":[{"filter":"datum.c==3 && datum.t=='arrowL'"}],"mark":{"type":"point","shape":"triangle-left","filled":true,"color":"white","size":45,"opacity":1},"encoding":{"x":{"field":"s","type":"quantitative","axis":null},"y":{"datum":24.5,"type":"quantitative","axis":null}}},
    {"transform":[{"filter":"datum.c==3 && datum.t=='label'"}],"mark":{"type":"text","fontSize":12.5,"fontStyle":"italic"},"encoding":{"x":{"field":"s","type":"quantitative","axis":null},"y":{"datum":8.5,"type":"quantitative","axis":null},"text":{"field":"n"}}},
    {"transform":[{"filter":"datum.c==3 && datum.t=='tss'"}],"mark":{"type":"text","fontSize":16,"font":"DejaVu Sans"},"encoding":{"x":{"field":"s","type":"quantitative","axis":null},"y":{"datum":11.5,"type":"quantitative","axis":null},"text":{"field":"n"}}}
   ]},
   {"width":138,"height":50,"layer":[
    {"data":{"name":"tracks"},"transform":[{"filter":"datum.c==3 && datum.r=='WT'"}],"mark":{"type":"area","color":"#0a22b4"},"encoding":{"x":{"field":"x","type":"quantitative","scale":{"domain":[0,100],"nice":false,"zero":false},"axis":{"ticks":false,"labels":false,"title":null,"domainWidth":2}},"y":{"field":"v","type":"quantitative","scale":{"domain":[0,16],"nice":false},"axis":{"values":[16],"title":null,"domainWidth":2,"tickWidth":2,"tickSize":4,"labelPadding":1,"labelFontSize":12}}}},
    {"data":{"name":"boxes"},"transform":[{"filter":"datum.c==3"},{"fold":["x1","x2"],"as":["k","xx"]}],"mark":{"type":"rule","strokeDash":[5,4],"strokeWidth":1.8,"color":"black"},"encoding":{"x":{"field":"xx","type":"quantitative"},"y":{"datum":18,"type":"quantitative"},"y2":{"datum":-4.8}}},
    {"data":{"name":"boxes"},"transform":[{"filter":"datum.c==3"}],"mark":{"type":"rule","strokeDash":[5,4],"strokeWidth":1.8,"color":"black"},"encoding":{"x":{"field":"x1","type":"quantitative"},"x2":{"field":"x2"},"y":{"datum":18,"type":"quantitative"}}}
   ]},
   {"width":1,"height":15,"data":{"values":[{}]},"mark":{"type":"point","opacity":0}},
   {"width":138,"height":50,"layer":[
    {"data":{"name":"tracks"},"transform":[{"filter":"datum.c==3 && datum.r=='mmi1'"}],"mark":{"type":"area","color":"#EBAA22"},"encoding":{"x":{"field":"x","type":"quantitative","scale":{"domain":[0,100],"nice":false,"zero":false},"axis":{"ticks":false,"labels":false,"title":null,"domainWidth":2}},"y":{"field":"v","type":"quantitative","scale":{"domain":[0,16],"nice":false},"axis":{"values":[16],"title":null,"domainWidth":2,"tickWidth":2,"tickSize":4,"labelPadding":1,"labelFontSize":12}}}},
    {"data":{"name":"boxes"},"transform":[{"filter":"datum.c==3"},{"fold":["x1","x2"],"as":["k","xx"]}],"mark":{"type":"rule","strokeDash":[5,4],"strokeWidth":1.8,"color":"black"},"encoding":{"x":{"field":"xx","type":"quantitative"},"y":{"datum":16,"type":"quantitative"},"y2":{"datum":-4.8}}}
   ]},
   {"width":1,"height":15,"data":{"values":[{}]},"mark":{"type":"point","opacity":0}},
   {"width":138,"height":50,"layer":[
    {"data":{"name":"tracks"},"transform":[{"filter":"datum.c==3 && datum.r=='swd22'"}],"mark":{"type":"area","color":"#6A7ED3"},"encoding":{"x":{"field":"x","type":"quantitative","scale":{"domain":[0,100],"nice":false,"zero":false},"axis":{"ticks":false,"labels":false,"title":null,"domainWidth":2}},"y":{"field":"v","type":"quantitative","scale":{"domain":[0,16],"nice":false},"axis":{"values":[16],"title":null,"domainWidth":2,"tickWidth":2,"tickSize":4,"labelPadding":1,"labelFontSize":12}}}},
    {"data":{"name":"boxes"},"transform":[{"filter":"datum.c==3"},{"fold":["x1","x2"],"as":["k","xx"]}],"mark":{"type":"rule","strokeDash":[5,4],"strokeWidth":1.8,"color":"black"},"encoding":{"x":{"field":"xx","type":"quantitative"},"y":{"datum":16,"type":"quantitative"},"y2":{"datum":-4.5}}}
   ]},
   {"width":1,"height":14,"data":{"values":[{}]},"mark":{"type":"point","opacity":0}},
   {"width":138,"height":50,"layer":[
    {"data":{"name":"tracks"},"transform":[{"filter":"datum.c==3 && datum.r=='ssu72'"}],"mark":{"type":"area","color":"#EE4646"},"encoding":{"x":{"field":"x","type":"quantitative","scale":{"domain":[0,100],"nice":false,"zero":false},"axis":{"ticks":false,"labels":false,"title":null,"domainWidth":2}},"y":{"field":"v","type":"quantitative","scale":{"domain":[0,16],"nice":false},"axis":{"values":[16],"title":null,"domainWidth":2,"tickWidth":2,"tickSize":4,"labelPadding":1,"labelFontSize":12}}}},
    {"data":{"name":"boxes"},"transform":[{"filter":"datum.c==3"},{"fold":["x1","x2"],"as":["k","xx"]}],"mark":{"type":"rule","strokeDash":[5,4],"strokeWidth":1.8,"color":"black"},"encoding":{"x":{"field":"xx","type":"quantitative"},"y":{"datum":16,"type":"quantitative"},"y2":{"datum":0}}}
   ]},
   {"width":1,"height":29,"data":{"values":[{}]},"mark":{"type":"point","opacity":0}},
   {"width":138,"height":51,"layer":[
    {"data":{"name":"chip"},"transform":[{"filter":"datum.c==3 && datum.r=='Iss1'"}],"mark":{"type":"area","color":"#3CB44B"},"encoding":{"x":{"field":"x","type":"quantitative","scale":{"domain":[0,100],"nice":false,"zero":false},"axis":{"ticks":false,"labels":false,"title":null,"domainWidth":2}},"y":{"field":"v","type":"quantitative","scale":{"domain":[0,28],"nice":false},"axis":{"values":[28],"title":null,"domainWidth":2,"tickWidth":2,"tickSize":4,"labelPadding":1,"labelFontSize":12}}}}
   ]},
   {"width":1,"height":15,"data":{"values":[{}]},"mark":{"type":"point","opacity":0}},
   {"width":138,"height":51,"layer":[
    {"data":{"name":"chip"},"transform":[{"filter":"datum.c==3 && datum.r=='Dhp1'"}],"mark":{"type":"area","color":"#C546F2"},"encoding":{"x":{"field":"x","type":"quantitative","scale":{"domain":[0,100],"nice":false,"zero":false},"axis":{"ticks":false,"labels":false,"title":null,"domainWidth":2}},"y":{"field":"v","type":"quantitative","scale":{"domain":[0,10],"nice":false},"axis":{"values":[10],"title":null,"domainWidth":2,"tickWidth":2,"tickSize":4,"labelPadding":1,"labelFontSize":12}}}}
   ]},
   {"width":1,"height":16,"data":{"values":[{}]},"mark":{"type":"point","opacity":0}},
   {"width":138,"height":51,"layer":[
    {"data":{"name":"chip"},"transform":[{"filter":"datum.c==3 && datum.r=='Dhp1s'"}],"mark":{"type":"area","color":"#5A186A"},"encoding":{"x":{"field":"x","type":"quantitative","scale":{"domain":[0,100],"nice":false,"zero":false},"axis":{"ticks":false,"labels":false,"title":null,"domainWidth":2}},"y":{"field":"v","type":"quantitative","scale":{"domain":[0,10],"nice":false},"axis":{"values":[10],"title":null,"domainWidth":2,"tickWidth":2,"tickSize":4,"labelPadding":1,"labelFontSize":12}}}}
   ]}
  ], "spacing": 0, "bounds": "flush"},

  {"vconcat": [
   {"width":140,"height":1,"data":{"values":[{}]},"mark":{"type":"rule","strokeOpacity":0},"encoding":{"x":{"datum":-30,"type":"quantitative","scale":{"domain":[0,140],"nice":false,"zero":false},"axis":null},"x2":{"datum":165},"y":{"datum":0,"type":"quantitative","scale":{"domain":[0,1]},"axis":null}}},
   {"width":140,"height":46,"data":{"name":"genes"},"layer":[
    {"transform":[{"filter":"datum.c==4 && datum.t=='line'"}],"mark":{"type":"rule","color":"black","strokeWidth":1.6},"encoding":{"x":{"field":"s","type":"quantitative","scale":{"domain":[0,100],"nice":false,"zero":false},"axis":null},"x2":{"field":"e"},"y":{"datum":17.3,"type":"quantitative","scale":{"domain":[0,46],"reverse":true,"nice":false,"zero":false},"axis":null}}},
    {"transform":[{"filter":"datum.c==4 && datum.t=='nc'"}],"mark":{"type":"rect","color":"#EE1D23"},"encoding":{"x":{"field":"s","type":"quantitative","axis":null},"x2":{"field":"e"},"y":{"datum":10.7,"type":"quantitative","axis":null},"y2":{"datum":13.2}}},
    {"transform":[{"filter":"datum.c==4 && datum.t=='cds'"}],"mark":{"type":"rect","color":"#7DC243"},"encoding":{"x":{"field":"s","type":"quantitative","axis":null},"x2":{"field":"e"},"y":{"datum":5,"type":"quantitative","axis":null},"y2":{"datum":15.7}}},
    {"transform":[{"filter":"datum.c==4 && datum.t=='utr'"}],"mark":{"type":"rect","color":"#7DC243"},"encoding":{"x":{"field":"s","type":"quantitative","axis":null},"x2":{"field":"e"},"y":{"datum":10.7,"type":"quantitative","axis":null},"y2":{"datum":14.2}}},
    {"transform":[{"filter":"datum.c==4 && datum.t=='arrowR'"}],"mark":{"type":"point","shape":"triangle-right","filled":true,"color":"white","size":45,"opacity":1},"encoding":{"x":{"field":"s","type":"quantitative","axis":null},"y":{"datum":10.3,"type":"quantitative","axis":null}}},
    {"transform":[{"filter":"datum.c==4 && datum.t=='label'"}],"mark":{"type":"text","fontSize":12.5,"fontStyle":"italic"},"encoding":{"x":{"field":"s","type":"quantitative","axis":null},"y":{"datum":27,"type":"quantitative","axis":null},"text":{"field":"n"}}},
    {"transform":[{"filter":"datum.c==4 && datum.t=='tss'"}],"mark":{"type":"text","fontSize":16,"font":"DejaVu Sans"},"encoding":{"x":{"field":"s","type":"quantitative","axis":null},"y":{"datum":9.5,"type":"quantitative","axis":null},"text":{"field":"n"}}}
   ]},
   {"width":140,"height":50,"layer":[
    {"data":{"name":"tracks"},"transform":[{"filter":"datum.c==4 && datum.r=='WT'"}],"mark":{"type":"area","color":"#0a22b4"},"encoding":{"x":{"field":"x","type":"quantitative","scale":{"domain":[0,100],"nice":false,"zero":false},"axis":{"ticks":false,"labels":false,"title":null,"domainWidth":2}},"y":{"field":"v","type":"quantitative","scale":{"domain":[0,15],"nice":false},"axis":{"values":[15],"title":null,"domainWidth":2,"tickWidth":2,"tickSize":4,"labelPadding":1,"labelFontSize":12}}}},
    {"data":{"name":"boxes"},"transform":[{"filter":"datum.c==4"},{"fold":["x1","x2"],"as":["k","xx"]}],"mark":{"type":"rule","strokeDash":[5,4],"strokeWidth":1.8,"color":"black"},"encoding":{"x":{"field":"xx","type":"quantitative"},"y":{"datum":16.9,"type":"quantitative"},"y2":{"datum":-4.5}}},
    {"data":{"name":"boxes"},"transform":[{"filter":"datum.c==4"}],"mark":{"type":"rule","strokeDash":[5,4],"strokeWidth":1.8,"color":"black"},"encoding":{"x":{"field":"x1","type":"quantitative"},"x2":{"field":"x2"},"y":{"datum":16.9,"type":"quantitative"}}},
    {"data":{"values":[{}]},"mark":{"type":"text","text":"WT","fontSize":15,"align":"left"},"encoding":{"x":{"datum":78.6,"type":"quantitative"},"y":{"datum":11.1,"type":"quantitative"}}}
   ]},
   {"width":1,"height":15,"data":{"values":[{}]},"mark":{"type":"point","opacity":0}},
   {"width":140,"height":50,"layer":[
    {"data":{"name":"tracks"},"transform":[{"filter":"datum.c==4 && datum.r=='mmi1'"}],"mark":{"type":"area","color":"#EBAA22"},"encoding":{"x":{"field":"x","type":"quantitative","scale":{"domain":[0,100],"nice":false,"zero":false},"axis":{"ticks":false,"labels":false,"title":null,"domainWidth":2}},"y":{"field":"v","type":"quantitative","scale":{"domain":[0,15],"nice":false},"axis":{"values":[15],"title":null,"domainWidth":2,"tickWidth":2,"tickSize":4,"labelPadding":1,"labelFontSize":12}}}},
    {"data":{"name":"boxes"},"transform":[{"filter":"datum.c==4"},{"fold":["x1","x2"],"as":["k","xx"]}],"mark":{"type":"rule","strokeDash":[5,4],"strokeWidth":1.8,"color":"black"},"encoding":{"x":{"field":"xx","type":"quantitative"},"y":{"datum":15,"type":"quantitative"},"y2":{"datum":-4.5}}},
    {"data":{"values":[{}]},"mark":{"type":"text","text":"mmi1Δ","fontSize":15,"fontStyle":"italic","align":"left"},"encoding":{"x":{"datum":71.4,"type":"quantitative"},"y":{"datum":10.5,"type":"quantitative"}}}
   ]},
   {"width":1,"height":15,"data":{"values":[{}]},"mark":{"type":"point","opacity":0}},
   {"width":140,"height":50,"layer":[
    {"data":{"name":"tracks"},"transform":[{"filter":"datum.c==4 && datum.r=='swd22'"}],"mark":{"type":"area","color":"#6A7ED3"},"encoding":{"x":{"field":"x","type":"quantitative","scale":{"domain":[0,100],"nice":false,"zero":false},"axis":{"ticks":false,"labels":false,"title":null,"domainWidth":2}},"y":{"field":"v","type":"quantitative","scale":{"domain":[0,15],"nice":false},"axis":{"values":[15],"title":null,"domainWidth":2,"tickWidth":2,"tickSize":4,"labelPadding":1,"labelFontSize":12}}}},
    {"data":{"name":"boxes"},"transform":[{"filter":"datum.c==4"},{"fold":["x1","x2"],"as":["k","xx"]}],"mark":{"type":"rule","strokeDash":[5,4],"strokeWidth":1.8,"color":"black"},"encoding":{"x":{"field":"xx","type":"quantitative"},"y":{"datum":15,"type":"quantitative"},"y2":{"datum":-4.2}}},
    {"data":{"values":[{}]},"mark":{"type":"text","text":"swd22Δ","fontSize":15,"fontStyle":"italic","align":"left"},"encoding":{"x":{"datum":71.4,"type":"quantitative"},"y":{"datum":10.2,"type":"quantitative"}}}
   ]},
   {"width":1,"height":14,"data":{"values":[{}]},"mark":{"type":"point","opacity":0}},
   {"width":140,"height":50,"layer":[
    {"data":{"name":"tracks"},"transform":[{"filter":"datum.c==4 && datum.r=='ssu72'"}],"mark":{"type":"area","color":"#EE4646"},"encoding":{"x":{"field":"x","type":"quantitative","scale":{"domain":[0,100],"nice":false,"zero":false},"axis":{"ticks":false,"labels":false,"title":null,"domainWidth":2}},"y":{"field":"v","type":"quantitative","scale":{"domain":[0,15],"nice":false},"axis":{"values":[15],"title":null,"domainWidth":2,"tickWidth":2,"tickSize":4,"labelPadding":1,"labelFontSize":12}}}},
    {"data":{"name":"boxes"},"transform":[{"filter":"datum.c==4"},{"fold":["x1","x2"],"as":["k","xx"]}],"mark":{"type":"rule","strokeDash":[5,4],"strokeWidth":1.8,"color":"black"},"encoding":{"x":{"field":"xx","type":"quantitative"},"y":{"datum":15,"type":"quantitative"},"y2":{"datum":0}}},
    {"data":{"values":[{}]},"mark":{"type":"text","text":"ssu72Δ","fontSize":15,"fontStyle":"italic","align":"left"},"encoding":{"x":{"datum":71.4,"type":"quantitative"},"y":{"datum":8.7,"type":"quantitative"}}}
   ]},
   {"width":1,"height":29,"data":{"values":[{}]},"mark":{"type":"point","opacity":0}},
   {"width":140,"height":51,"layer":[
    {"data":{"name":"chip"},"transform":[{"filter":"datum.c==4 && datum.r=='Iss1'"}],"mark":{"type":"area","color":"#3CB44B"},"encoding":{"x":{"field":"x","type":"quantitative","scale":{"domain":[0,100],"nice":false,"zero":false},"axis":{"ticks":false,"labels":false,"title":null,"domainWidth":2}},"y":{"field":"v","type":"quantitative","scale":{"domain":[0,35],"nice":false},"axis":{"values":[35],"title":null,"domainWidth":2,"tickWidth":2,"tickSize":4,"labelPadding":1,"labelFontSize":12}}}},
    {"data":{"values":[{}]},"mark":{"type":"text","text":"WT","fontSize":15,"align":"left"},"encoding":{"x":{"datum":78.6,"type":"quantitative"},"y":{"datum":26.1,"type":"quantitative"}}}
   ]},
   {"width":1,"height":15,"data":{"values":[{}]},"mark":{"type":"point","opacity":0}},
   {"width":140,"height":51,"layer":[
    {"data":{"name":"chip"},"transform":[{"filter":"datum.c==4 && datum.r=='Dhp1'"}],"mark":{"type":"area","color":"#C546F2"},"encoding":{"x":{"field":"x","type":"quantitative","scale":{"domain":[0,100],"nice":false,"zero":false},"axis":{"ticks":false,"labels":false,"title":null,"domainWidth":2}},"y":{"field":"v","type":"quantitative","scale":{"domain":[0,15],"nice":false},"axis":{"values":[15],"title":null,"domainWidth":2,"tickWidth":2,"tickSize":4,"labelPadding":1,"labelFontSize":12}}}},
    {"data":{"values":[{}]},"mark":{"type":"text","text":"WT","fontSize":15,"align":"left"},"encoding":{"x":{"datum":78.6,"type":"quantitative"},"y":{"datum":14.4,"type":"quantitative"}}}
   ]},
   {"width":1,"height":16,"data":{"values":[{}]},"mark":{"type":"point","opacity":0}},
   {"width":140,"height":51,"layer":[
    {"data":{"name":"chip"},"transform":[{"filter":"datum.c==4 && datum.r=='Dhp1s'"}],"mark":{"type":"area","color":"#5A186A"},"encoding":{"x":{"field":"x","type":"quantitative","scale":{"domain":[0,100],"nice":false,"zero":false},"axis":{"ticks":false,"labels":false,"title":null,"domainWidth":2}},"y":{"field":"v","type":"quantitative","scale":{"domain":[0,15],"nice":false},"axis":{"values":[15],"title":null,"domainWidth":2,"tickWidth":2,"tickSize":4,"labelPadding":1,"labelFontSize":12}}}},
    {"data":{"values":[{}]},"mark":{"type":"text","text":"swd22Δ","fontSize":15,"fontStyle":"italic","align":"left"},"encoding":{"x":{"datum":71.4,"type":"quantitative"},"y":{"datum":14.1,"type":"quantitative"}}}
   ]}
  ], "spacing": 0, "bounds": "flush"}
 ], "spacing": 0},

 {"hconcat": [
  {"width":168,"height":162,"layer":[
   {"data":{"name":"prof"},"transform":[{"filter":"datum.p=='C'"}],"mark":{"type":"line","interpolate":"monotone","strokeWidth":2.5,"color":"black"},"encoding":{
    "x":{"field":"x","type":"quantitative","scale":{"domain":[0,100],"nice":false,"zero":false},"axis":{"values":[0,100],"labels":false,"title":null,"tickSize":4,"domainWidth":1.5,"tickWidth":1.5}},
    "y":{"field":"v","type":"quantitative","scale":{"domain":[0,15.7],"nice":false},"axis":{"values":[0,5,10,15],"labelExpr":"datum.value==0?'':datum.label","title":"Normalized read density","titleFontSize":13,"titlePadding":8,"tickSize":4,"labelFontSize":13,"domainWidth":1.5,"tickWidth":1.5}},
    "strokeDash":{"field":"s","type":"nominal","scale":{"domain":["Islands","All genes"],"range":[[1,0],[5,4]]},"legend":{"title":null,"orient":"top-left","offset":4,"padding":0,"symbolType":"stroke","symbolStrokeWidth":3,"symbolSize":200,"symbolStrokeColor":"black","labelFontSize":12.5,"labelFontWeight":"bold","labelColor":"black","rowPadding":1,"labelOffset":4}}}},
   {"data":{"values":[{}]},"mark":{"type":"rule","strokeWidth":1.5,"color":"black"},"encoding":{"x":{"datum":52,"type":"quantitative"},"y":{"datum":15.4,"type":"quantitative"},"y2":{"datum":13.2}}},
   {"data":{"values":[{}]},"mark":{"type":"text","text":"RNAPII","fontSize":12.5},"encoding":{"x":{"datum":68.5,"type":"quantitative"},"y":{"datum":15.16,"type":"quantitative"}}},
   {"data":{"values":[{}]},"mark":{"type":"text","text":"Ser2-P","fontSize":12.5},"encoding":{"x":{"datum":68.5,"type":"quantitative"},"y":{"datum":13.7,"type":"quantitative"}}},
   {"data":{"values":[{}]},"mark":{"type":"text","text":"C","fontSize":17,"dx":-63},"encoding":{"x":{"datum":0,"type":"quantitative"},"y":{"datum":16.1,"type":"quantitative"}}}
  ]},
  {"width":82,"height":168,"data":{"values":[{}]},"mark":{"type":"rule","strokeOpacity":0},"encoding":{"x":{"datum":0,"type":"quantitative","scale":{"domain":[0,1]},"axis":null},"y":{"datum":194,"type":"quantitative","scale":{"domain":[0,168],"nice":false,"zero":false},"axis":null},"y2":{"datum":0}}},
  {"width":169,"height":162,"layer":[
   {"data":{"name":"prof"},"transform":[{"filter":"datum.p=='E'"}],"mark":{"type":"line","interpolate":"monotone","strokeWidth":2.5},"encoding":{
    "x":{"field":"x","type":"quantitative","scale":{"domain":[0,100],"nice":false,"zero":false},"axis":{"values":[0,100],"labels":false,"title":null,"tickSize":4,"domainWidth":1.5,"tickWidth":1.5}},
    "y":{"field":"v","type":"quantitative","scale":{"domain":[0,15.7],"nice":false},"axis":{"values":[0,5,10,15],"labelExpr":"datum.value==0?'':datum.label","title":"Normalized read density","titleFontSize":13,"titlePadding":8,"tickSize":4,"labelFontSize":13,"domainWidth":1.5,"tickWidth":1.5}},
    "color":{"field":"s","type":"nominal","scale":{"domain":["WT","mmi1Δ","swd22Δ","ssu72Δ"],"range":["black","#EBAA22","#6A7ED3","#EE4646"]},"legend":null}}},
   {"data":{"values":[{}]},"mark":{"type":"point","shape":"square","filled":true,"size":90,"fill":"black","stroke":"black","strokeWidth":1.2,"opacity":1},"encoding":{"x":{"datum":6.2,"type":"quantitative"},"y":{"datum":15.32,"type":"quantitative"}}},
   {"data":{"values":[{}]},"mark":{"type":"point","shape":"square","filled":true,"size":90,"fill":"#EBAA22","stroke":"black","strokeWidth":1.2,"opacity":1},"encoding":{"x":{"datum":6.2,"type":"quantitative"},"y":{"datum":14.09,"type":"quantitative"}}},
   {"data":{"values":[{}]},"mark":{"type":"point","shape":"square","filled":true,"size":90,"fill":"#6A7ED3","stroke":"black","strokeWidth":1.2,"opacity":1},"encoding":{"x":{"datum":6.2,"type":"quantitative"},"y":{"datum":12.83,"type":"quantitative"}}},
   {"data":{"values":[{}]},"mark":{"type":"point","shape":"square","filled":true,"size":90,"fill":"#EE4646","stroke":"black","strokeWidth":1.2,"opacity":1},"encoding":{"x":{"datum":6.2,"type":"quantitative"},"y":{"datum":11.54,"type":"quantitative"}}},
   {"data":{"values":[{}]},"mark":{"type":"text","text":"WT","fontSize":12.5,"align":"left"},"encoding":{"x":{"datum":13,"type":"quantitative"},"y":{"datum":15.32,"type":"quantitative"}}},
   {"data":{"values":[{}]},"mark":{"type":"text","text":"mmi1Δ","fontSize":12.5,"fontStyle":"italic","align":"left"},"encoding":{"x":{"datum":13,"type":"quantitative"},"y":{"datum":14.09,"type":"quantitative"}}},
   {"data":{"values":[{}]},"mark":{"type":"text","text":"swd22Δ","fontSize":12.5,"fontStyle":"italic","align":"left"},"encoding":{"x":{"datum":13,"type":"quantitative"},"y":{"datum":12.83,"type":"quantitative"}}},
   {"data":{"values":[{}]},"mark":{"type":"text","text":"ssu72Δ","fontSize":12.5,"fontStyle":"italic","align":"left"},"encoding":{"x":{"datum":13,"type":"quantitative"},"y":{"datum":11.54,"type":"quantitative"}}},
   {"data":{"values":[{}]},"mark":{"type":"rule","strokeWidth":1.5,"color":"black"},"encoding":{"x":{"datum":44.2,"type":"quantitative"},"y":{"datum":15.7,"type":"quantitative"},"y2":{"datum":11.3}}},
   {"data":{"values":[{}]},"mark":{"type":"text","text":"RNAPII","fontSize":12.5},"encoding":{"x":{"datum":64.9,"type":"quantitative"},"y":{"datum":15.06,"type":"quantitative"}}},
   {"data":{"values":[{}]},"mark":{"type":"text","text":"Ser2-P","fontSize":12.5},"encoding":{"x":{"datum":64.9,"type":"quantitative"},"y":{"datum":13.55,"type":"quantitative"}}},
   {"data":{"values":[{}]},"mark":{"type":"text","text":"at islands","fontSize":12.5},"encoding":{"x":{"datum":64.9,"type":"quantitative"},"y":{"datum":12.1,"type":"quantitative"}}},
   {"data":{"values":[{}]},"mark":{"type":"text","text":"E","fontSize":17,"dx":-61},"encoding":{"x":{"datum":0,"type":"quantitative"},"y":{"datum":16.1,"type":"quantitative"}}}
  ]},
  {"width":78,"height":1,"data":{"values":[{}]},"mark":{"type":"point","opacity":0}},
  {"width":168,"height":162,"layer":[
   {"data":{"name":"prof"},"transform":[{"filter":"datum.p=='G'"}],"mark":{"type":"line","interpolate":"monotone","strokeWidth":2.5},"encoding":{
    "x":{"field":"x","type":"quantitative","scale":{"domain":[0,100],"nice":false,"zero":false},"axis":{"values":[0,100],"labels":false,"title":null,"tickSize":4,"domainWidth":1.5,"tickWidth":1.5}},
    "y":{"field":"v","type":"quantitative","scale":{"domain":[0,8.4],"nice":false},"axis":{"values":[0,1,2,3,4,5,6,7,8],"labelExpr":"(datum.value%2==0 && datum.value>0) ? datum.label : ''","title":"Normalized read density","titleFontSize":13,"titlePadding":10,"tickSize":4,"labelFontSize":13,"domainWidth":1.5,"tickWidth":1.5}},
    "color":{"field":"s","type":"nominal","scale":{"domain":["Iss1","Dhp1"],"range":["#3CB44B","#A53DF0"]},"legend":null}}},
   {"data":{"values":[{}]},"mark":{"type":"text","text":"Iss1","fontSize":13,"align":"left","color":"#3CB44B"},"encoding":{"x":{"datum":4.6,"type":"quantitative"},"y":{"datum":8.23,"type":"quantitative"}}},
   {"data":{"values":[{}]},"mark":{"type":"text","text":"Dhp1","fontSize":13,"align":"left","color":"#A53DF0"},"encoding":{"x":{"datum":4.6,"type":"quantitative"},"y":{"datum":7.41,"type":"quantitative"}}},
   {"data":{"values":[{}]},"mark":{"type":"rule","strokeWidth":1.5,"color":"black"},"encoding":{"x":{"datum":26.4,"type":"quantitative"},"y":{"datum":8.45,"type":"quantitative"},"y2":{"datum":7.15}}},
   {"data":{"values":[{}]},"mark":{"type":"text","text":"At islands","fontSize":12.5,"align":"left"},"encoding":{"x":{"datum":31,"type":"quantitative"},"y":{"datum":7.84,"type":"quantitative"}}},
   {"data":{"values":[{}]},"mark":{"type":"text","text":"G","fontSize":17,"dx":-50},"encoding":{"x":{"datum":0,"type":"quantitative"},"y":{"datum":8.6,"type":"quantitative"}}}
  ]}
 ], "spacing": 0, "bounds": "flush", "resolve": {"scale": {"color": "independent", "strokeDash": "independent"}, "legend": {"color": "independent", "strokeDash": "independent"}}},

 {"hconcat": [
  {"width":168,"height":15,"data":{"values":[{}]},"layer":[
   {"mark":{"type":"rect","fill":"#D9D9D9","stroke":"black","strokeWidth":1.5},"encoding":{"x":{"datum":0,"type":"quantitative","scale":{"domain":[0,100],"nice":false,"zero":false},"axis":null},"x2":{"datum":100}}},
   {"mark":{"type":"text","text":"ORF","fontSize":13},"encoding":{"x":{"datum":50,"type":"quantitative"}}},
   {"mark":{"type":"text","text":"ATG","fontSize":12,"dy":17},"encoding":{"x":{"datum":0,"type":"quantitative"}}},
   {"mark":{"type":"text","text":"STOP","fontSize":12,"dy":17},"encoding":{"x":{"datum":100,"type":"quantitative"}}},
   {"mark":{"type":"text","text":"5’· · ·","fontSize":12,"align":"right","dx":-2},"encoding":{"x":{"datum":0,"type":"quantitative"}}},
   {"mark":{"type":"text","text":"· · · 3’","fontSize":12,"align":"left","dx":2},"encoding":{"x":{"datum":100,"type":"quantitative"}}}
  ]},
  {"width":82,"height":45,"data":{"values":[{}]},"mark":{"type":"rule","strokeOpacity":0},"encoding":{"x":{"datum":0,"type":"quantitative","scale":{"domain":[0,1]},"axis":null},"y":{"datum":47,"type":"quantitative","scale":{"domain":[0,45],"nice":false,"zero":false},"axis":null},"y2":{"datum":0}}},
  {"width":169,"height":15,"data":{"values":[{}]},"layer":[
   {"mark":{"type":"rect","fill":"#D9D9D9","stroke":"black","strokeWidth":1.5},"encoding":{"x":{"datum":0,"type":"quantitative","scale":{"domain":[0,100],"nice":false,"zero":false},"axis":null},"x2":{"datum":100}}},
   {"mark":{"type":"text","text":"ORF","fontSize":13},"encoding":{"x":{"datum":50,"type":"quantitative"}}},
   {"mark":{"type":"text","text":"ATG","fontSize":12,"dy":17},"encoding":{"x":{"datum":0,"type":"quantitative"}}},
   {"mark":{"type":"text","text":"STOP","fontSize":12,"dy":17},"encoding":{"x":{"datum":100,"type":"quantitative"}}},
   {"mark":{"type":"text","text":"5’· · ·","fontSize":12,"align":"right","dx":-2},"encoding":{"x":{"datum":0,"type":"quantitative"}}},
   {"mark":{"type":"text","text":"· · · 3’","fontSize":12,"align":"left","dx":2},"encoding":{"x":{"datum":100,"type":"quantitative"}}}
  ]},
  {"width":78,"height":1,"data":{"values":[{}]},"mark":{"type":"point","opacity":0}},
  {"width":168,"height":15,"data":{"values":[{}]},"layer":[
   {"mark":{"type":"rect","fill":"#D9D9D9","stroke":"black","strokeWidth":1.5},"encoding":{"x":{"datum":0,"type":"quantitative","scale":{"domain":[0,100],"nice":false,"zero":false},"axis":null},"x2":{"datum":100}}},
   {"mark":{"type":"text","text":"ORF","fontSize":13},"encoding":{"x":{"datum":50,"type":"quantitative"}}},
   {"mark":{"type":"text","text":"ATG","fontSize":12,"dy":17},"encoding":{"x":{"datum":0,"type":"quantitative"}}},
   {"mark":{"type":"text","text":"STOP","fontSize":12,"dy":17},"encoding":{"x":{"datum":100,"type":"quantitative"}}},
   {"mark":{"type":"text","text":"5’· · ·","fontSize":12,"align":"right","dx":-2},"encoding":{"x":{"datum":0,"type":"quantitative"}}},
   {"mark":{"type":"text","text":"· · · 3’","fontSize":12,"align":"left","dx":2},"encoding":{"x":{"datum":100,"type":"quantitative"}}}
  ]}
 ], "spacing": 0, "bounds": "flush"},

 {"hconcat": [
  {"width":23,"height":216,"data":{"values":[{}]},"mark":{"type":"rule","strokeOpacity":0},"encoding":{"x":{"datum":0,"type":"quantitative","scale":{"domain":[0,1]},"axis":null},"y":{"datum":238,"type":"quantitative","scale":{"domain":[0,216],"nice":false,"zero":false},"axis":null},"y2":{"datum":0}}},
  {"width":127,"height":165,"layer":[
   {"data":{"name":"stats"},"transform":[{"filter":"datum.p=='D'"}],"mark":{"type":"rule","strokeWidth":1.5},"encoding":{
    "x":{"field":"g","type":"nominal","sort":["All genes","Islands"],"scale":{"paddingInner":0.3,"paddingOuter":0.24},"axis":{"title":null,"labelAngle":-45,"labelBaseline":"middle","labelFontSize":12.5,"tickSize":5,"domainWidth":1.5,"tickWidth":1.5,"labelPadding":2}},
    "y":{"field":"lo","type":"quantitative","scale":{"domain":[-1.5,33.4],"nice":false,"zero":false},"axis":{"values":[0,10,20,30],"title":["RNAPII Ser2-P peak","enrichment"],"titleFontSize":14,"titlePadding":12,"labelFontSize":13,"tickSize":4,"domainWidth":1.5,"tickWidth":1.5}},
    "y2":{"field":"hi"},
    "stroke":{"field":"g","type":"nominal","scale":{"domain":["All genes","Islands"],"range":["black","#FF1F1F"]},"legend":null}}},
   {"data":{"name":"stats"},"transform":[{"filter":"datum.p=='D'"}],"mark":{"type":"bar","fill":"white","strokeWidth":1.5},"encoding":{"x":{"field":"g","type":"nominal","sort":["All genes","Islands"]},"y":{"field":"q1","type":"quantitative"},"y2":{"field":"q3"},"stroke":{"field":"g","type":"nominal","legend":null}}},
   {"data":{"name":"stats"},"transform":[{"filter":"datum.p=='D'"}],"mark":{"type":"bar","fill":"transparent","strokeWidth":1.5},"encoding":{"x":{"field":"g","type":"nominal","sort":["All genes","Islands"]},"y":{"field":"md","type":"quantitative"},"y2":{"field":"md"},"stroke":{"field":"g","type":"nominal","legend":null}}},
   {"data":{"values":[{}]},"mark":{"type":"text","text":"p","fontSize":12,"fontStyle":"italic","align":"right","dx":17},"encoding":{"x":{"datum":"All genes","type":"nominal"},"y":{"datum":30.7,"type":"quantitative"}}},
   {"data":{"values":[{}]},"mark":{"type":"text","text":"= 0.01","fontSize":12,"align":"left","dx":20},"encoding":{"x":{"datum":"All genes","type":"nominal"},"y":{"datum":30.7,"type":"quantitative"}}},
   {"data":{"values":[{}]},"mark":{"type":"text","text":"D","fontSize":17,"dx":-121},"encoding":{"x":{"datum":"All genes","type":"nominal"},"y":{"datum":35.5,"type":"quantitative"}}}
  ]},
  {"width":127,"height":1,"data":{"values":[{}]},"mark":{"type":"point","opacity":0}},
  {"width":128,"height":165,"layer":[
   {"data":{"name":"stats"},"transform":[{"filter":"datum.p=='F'"}],"mark":{"type":"rule","strokeWidth":1.5},"encoding":{
    "x":{"field":"g","type":"nominal","sort":["mmi1Δ","swd22Δ","ssu72Δ","WT"],"scale":{"paddingInner":0.3,"paddingOuter":0.25},"axis":{"title":null,"labelAngle":-45,"labelBaseline":"middle","labelFontSize":12.5,"tickSize":5,"domainWidth":1.5,"tickWidth":1.5,"labelPadding":2,"labelFontStyle":{"condition":{"test":"datum.value=='WT'","value":"normal"},"value":"italic"}}},
    "y":{"field":"lo","type":"quantitative","scale":{"domain":[-1.7,38.8],"nice":false,"zero":false},"axis":{"values":[0,10,20,30],"title":["RNAPII Ser2-P peak","enrichment"],"titleFontSize":14,"titlePadding":12,"labelFontSize":13,"tickSize":4,"domainWidth":1.5,"tickWidth":1.5}},
    "y2":{"field":"hi"},
    "stroke":{"field":"g","type":"nominal","scale":{"domain":["mmi1Δ","swd22Δ","ssu72Δ","WT"],"range":["#EBAA22","#6A7ED3","#EE4646","black"]},"legend":null}}},
   {"data":{"name":"stats"},"transform":[{"filter":"datum.p=='F'"}],"mark":{"type":"bar","fill":"white","strokeWidth":1.5},"encoding":{"x":{"field":"g","type":"nominal","sort":["mmi1Δ","swd22Δ","ssu72Δ","WT"]},"y":{"field":"q1","type":"quantitative"},"y2":{"field":"q3"},"stroke":{"field":"g","type":"nominal","legend":null}}},
   {"data":{"name":"stats"},"transform":[{"filter":"datum.p=='F'"}],"mark":{"type":"bar","fill":"transparent","strokeWidth":1.5},"encoding":{"x":{"field":"g","type":"nominal","sort":["mmi1Δ","swd22Δ","ssu72Δ","WT"]},"y":{"field":"md","type":"quantitative"},"y2":{"field":"md"},"stroke":{"field":"g","type":"nominal","legend":null}}},
   {"data":{"values":[{}]},"mark":{"type":"rule","strokeWidth":1.5,"color":"black"},"encoding":{"x":{"datum":"mmi1Δ","type":"nominal"},"x2":{"datum":"WT"},"y":{"datum":29.8,"type":"quantitative"}}},
   {"data":{"values":[{}]},"mark":{"type":"rule","strokeWidth":1.5,"color":"black"},"encoding":{"x":{"datum":"mmi1Δ","type":"nominal"},"y":{"datum":29.8,"type":"quantitative"},"y2":{"datum":28.9}}},
   {"data":{"values":[{}]},"mark":{"type":"rule","strokeWidth":1.5,"color":"black"},"encoding":{"x":{"datum":"WT","type":"nominal"},"y":{"datum":29.8,"type":"quantitative"},"y2":{"datum":28.9}}},
   {"data":{"values":[{}]},"mark":{"type":"rule","strokeWidth":1.5,"color":"black"},"encoding":{"x":{"datum":"ssu72Δ","type":"nominal"},"x2":{"datum":"WT"},"y":{"datum":33.5,"type":"quantitative"}}},
   {"data":{"values":[{}]},"mark":{"type":"rule","strokeWidth":1.5,"color":"black"},"encoding":{"x":{"datum":"ssu72Δ","type":"nominal"},"y":{"datum":33.5,"type":"quantitative"},"y2":{"datum":32.7}}},
   {"data":{"values":[{}]},"mark":{"type":"rule","strokeWidth":1.5,"color":"black"},"encoding":{"x":{"datum":"WT","type":"nominal"},"y":{"datum":33.5,"type":"quantitative"},"y2":{"datum":32.7}}},
   {"data":{"values":[{}]},"mark":{"type":"text","text":"Islands","fontSize":13},"encoding":{"x":{"datum":"swd22Δ","type":"nominal"},"y":{"datum":38,"type":"quantitative"}}},
   {"data":{"values":[{}]},"mark":{"type":"text","text":"p","fontSize":12,"fontStyle":"italic","align":"right","dx":5},"encoding":{"x":{"datum":"ssu72Δ","type":"nominal"},"y":{"datum":36.3,"type":"quantitative"}}},
   {"data":{"values":[{}]},"mark":{"type":"text","text":"= 0.05","fontSize":12,"align":"left","dx":8},"encoding":{"x":{"datum":"ssu72Δ","type":"nominal"},"y":{"datum":36.3,"type":"quantitative"}}},
   {"data":{"values":[{}]},"mark":{"type":"text","text":"p","fontSize":12,"fontStyle":"italic","align":"right","dx":-7.5},"encoding":{"x":{"datum":"swd22Δ","type":"nominal"},"y":{"datum":32.9,"type":"quantitative"}}},
   {"data":{"values":[{}]},"mark":{"type":"text","text":"= 0.01","fontSize":12,"align":"left","dx":-4.5},"encoding":{"x":{"datum":"swd22Δ","type":"nominal"},"y":{"datum":32.9,"type":"quantitative"}}},
   {"data":{"values":[{}]},"mark":{"type":"text","text":"F","fontSize":17,"dx":-106},"encoding":{"x":{"datum":"mmi1Δ","type":"nominal"},"y":{"datum":41.3,"type":"quantitative"}}}
  ]},
  {"width":115,"height":1,"data":{"values":[{}]},"mark":{"type":"point","opacity":0}},
  {"width":150,"height":165,"layer":[
   {"data":{"name":"stats"},"transform":[{"filter":"datum.p=='H'"}],"mark":{"type":"rule","strokeWidth":1.5},"encoding":{
    "x":{"field":"g","type":"nominal","sort":["WT","swd22Δ"],"scale":{"paddingInner":0.3,"paddingOuter":0.24},"axis":{"title":null,"labelAngle":-45,"labelBaseline":"middle","labelFontSize":12.5,"tickSize":5,"domainWidth":1.5,"tickWidth":1.5,"labelPadding":2,"labelFontStyle":{"condition":{"test":"datum.value=='WT'","value":"normal"},"value":"italic"}}},
    "y":{"field":"lo","type":"quantitative","scale":{"domain":[-0.93,20.8],"nice":false,"zero":false},"axis":{"values":[0,5,10,15,20],"labelExpr":"datum.value%10==0 ? datum.label : ''","title":["Dhp1 peak","enrichment"],"titleFontSize":14,"titlePadding":12,"labelFontSize":13,"tickSize":4,"domainWidth":1.5,"tickWidth":1.5}},
    "y2":{"field":"hi"},
    "stroke":{"field":"g","type":"nominal","scale":{"domain":["WT","swd22Δ"],"range":["#C546F2","#5A186A"]},"legend":null}}},
   {"data":{"name":"stats"},"transform":[{"filter":"datum.p=='H'"}],"mark":{"type":"bar","fill":"white","strokeWidth":1.5},"encoding":{"x":{"field":"g","type":"nominal","sort":["WT","swd22Δ"]},"y":{"field":"q1","type":"quantitative"},"y2":{"field":"q3"},"stroke":{"field":"g","type":"nominal","legend":null}}},
   {"data":{"name":"stats"},"transform":[{"filter":"datum.p=='H'"}],"mark":{"type":"bar","fill":"transparent","strokeWidth":1.5},"encoding":{"x":{"field":"g","type":"nominal","sort":["WT","swd22Δ"]},"y":{"field":"md","type":"quantitative"},"y2":{"field":"md"},"stroke":{"field":"g","type":"nominal","legend":null}}},
   {"data":{"values":[{}]},"mark":{"type":"text","text":"Islands","fontSize":13,"dx":39.5},"encoding":{"x":{"datum":"WT","type":"nominal"},"y":{"datum":20.5,"type":"quantitative"}}},
   {"data":{"values":[{}]},"mark":{"type":"text","text":"p","fontSize":12,"fontStyle":"italic","align":"right","dx":26},"encoding":{"x":{"datum":"WT","type":"nominal"},"y":{"datum":17.8,"type":"quantitative"}}},
   {"data":{"values":[{}]},"mark":{"type":"text","text":"= 0.03","fontSize":12,"align":"left","dx":29},"encoding":{"x":{"datum":"WT","type":"nominal"},"y":{"datum":17.8,"type":"quantitative"}}},
   {"data":{"values":[{}]},"mark":{"type":"text","text":"H","fontSize":17,"dx":-114},"encoding":{"x":{"datum":"WT","type":"nominal"},"y":{"datum":22.1,"type":"quantitative"}}}
  ]}
 ], "spacing": 0, "bounds": "flush", "resolve": {"scale": {"stroke": "independent"}}}
]
}
